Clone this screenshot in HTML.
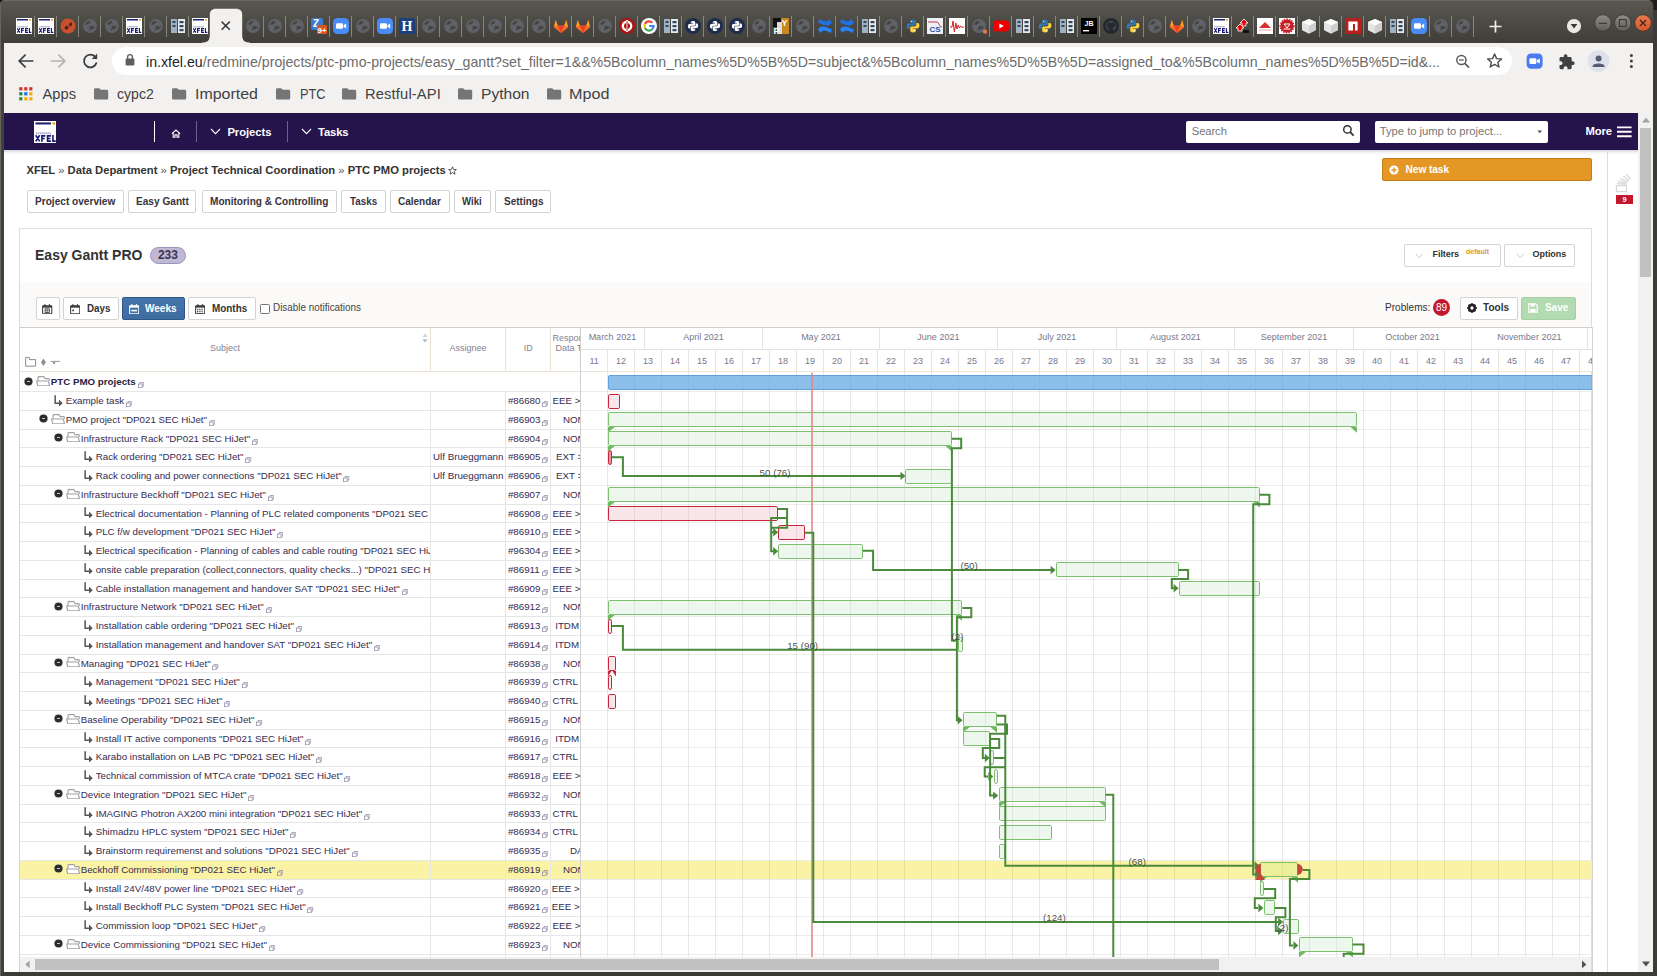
<!DOCTYPE html>
<html><head><meta charset="utf-8"><title>Easy Gantt</title>
<style>
html,body{margin:0;padding:0}
body{width:1657px;height:976px;overflow:hidden;position:relative;background:#3c3b37;font-family:"Liberation Sans",sans-serif}
.fit{display:inline-block}
div.fit{display:block}
#vscroll{position:absolute;left:1638px;top:112.8px;width:15px;height:859px;background:#f1f1f1}
#vthumb{position:absolute;left:1640.2px;top:128px;width:10.8px;height:148.6px;background:#c1c1c1}
#lborder{position:absolute;left:0;top:42.6px;width:4px;height:934px;background:#42413d}
#bborder{position:absolute;left:0;top:971.6px;width:1657px;height:4.4px;background:#3c3b37}
#rborder{position:absolute;left:1653px;top:0;width:4px;height:976px;background:#3c3b37}

#tabstrip{position:absolute;left:0;top:0;width:1657px;height:42.6px;background:linear-gradient(#4f4e48 0,#58574f 2px,#4b4a45 22px,#403f3b 42px)}
.fav{position:absolute;top:18px}
.tsep{position:absolute;top:16px;width:1.1px;height:21px;background:#88857a}
#toolbar{position:absolute;left:4px;top:42.6px;width:1649px;height:70.2px;background:#f2f1f0}
#urlpill{position:absolute;left:112px;top:47px;width:1400px;height:28px;border-radius:14px;background:#fff}
#url{position:absolute;left:146.3px;top:52.6px;font-size:14.6px;line-height:19px;white-space:nowrap}
.bm{position:absolute;top:85.4px;font-size:14.7px;line-height:19px;color:#424242;white-space:nowrap}

#pagebg{position:absolute;left:4px;top:112.8px;width:1634px;height:859px;background:#fff}
#nav{position:absolute;left:4px;top:112.7px;width:1634px;height:37.1px;background:#25134b}
#navshadow{position:absolute;left:4px;top:149.8px;width:1634px;height:5px;background:linear-gradient(#d4d4d6,#f4f4f4 50%,#fff)}
.nsep{position:absolute;top:121px;width:0.8px;height:20.6px;background:#6c6186}
.navt{position:absolute;top:125.2px;font-size:11.25px;line-height:14px;font-weight:bold;color:#fff;white-space:nowrap}
.ninp{position:absolute;top:121px;height:22px;background:#fff;border-radius:2px}
.nph{position:absolute;top:125.2px;font-size:11.25px;line-height:13px;color:#767676;white-space:nowrap}
#bc{position:absolute;left:26.5px;top:163.4px;font-size:11.25px;line-height:14px;font-weight:bold;color:#333;white-space:nowrap}
.bcs{font-weight:normal;color:#555}
#newtask{position:absolute;left:1382.3px;top:158.3px;width:209.6px;height:22.4px;box-sizing:border-box;background:#e49725;border:0.8px solid #c47d14;border-radius:2px}
.mbtn{position:absolute;top:190px;height:22.6px;box-sizing:border-box;border:0.8px solid #d3d3d3;border-radius:2px;background:#fff;font-size:11.25px;line-height:21px;font-weight:bold;color:#37343e;text-align:center;white-space:nowrap}
.mtx{position:absolute;top:194.6px;font-size:11.25px;line-height:13px;font-weight:bold;color:#37343e;white-space:nowrap}
#card{position:absolute;left:19.3px;top:228.4px;width:1572.6px;height:746px;box-sizing:border-box;border:0.9px solid #ddd;background:#fff}
#cardtb{position:absolute;left:20.2px;top:281.8px;width:1570.8px;height:45.4px;background:#fbfaf9}
#title{position:absolute;left:35px;top:245.1px;font-size:15px;line-height:19px;font-weight:bold;color:#333;white-space:nowrap}
#badge{position:absolute;left:150.2px;top:247.2px;width:35.6px;height:16.6px;box-sizing:border-box;border:0.8px solid #9b93b8;border-radius:8.4px;background:#c0b9d6;text-align:center;font-size:12px;line-height:15.8px;font-weight:bold;color:#3a3450}
#badge span{display:inline-block}
.fbtn{position:absolute;top:244.3px;height:22.5px;box-sizing:border-box;border:0.8px solid #d3d3d3;border-radius:2px;background:#fff}
.ftxt{position:absolute;top:247.8px;font-size:9px;line-height:12px;font-weight:bold;color:#333;white-space:nowrap}
.tbtn{position:absolute;top:297.3px;height:22.4px;box-sizing:border-box;border:0.8px solid #d3d3d3;border-radius:2px;background:#fff}
.tbtn.act{background:linear-gradient(#4575ac,#3e6ca1);border-color:#2c5687}
.tbtn.sav{background:#b3dbb1;border-color:#a6cfa4}
.tbt{position:absolute;top:301.3px;font-size:11.25px;line-height:13px;font-weight:bold;color:#333;white-space:nowrap}

#gwrap{position:absolute;left:20.2px;top:328.2px;width:1571.6px;height:629.0px;overflow:hidden}
#ginner{position:absolute;left:-20.2px;top:-328.2px;width:1657px;height:976px}
.rl{position:absolute;left:20.2px;width:560.1999999999999px;height:1px;background:#e6e6e6}
.rl2{position:absolute;left:580.4px;width:1011.4px;height:1px;background:#ececec}
.vl{position:absolute;top:372px;width:1px;height:600px;background:rgba(0,0,0,0.088)}
.vh{position:absolute;top:349.6px;width:1px;height:21.6px;background:#e4e4e4}
.mvl{position:absolute;top:328.2px;width:1px;height:21px;background:#e4e4e4}
.cl{position:absolute;top:391.5px;width:1px;height:590px;background:#e6e6e6}
.cl2{position:absolute;top:328.2px;width:1.2px;height:650px;background:#cfcfcf}
.mh{position:absolute;top:331.6px;font-size:9px;line-height:11px;color:#7a768c;text-align:center;white-space:nowrap;overflow:hidden}
.wh{position:absolute;top:356.3px;width:27px;font-size:9px;line-height:11px;color:#7a768c;text-align:center}
.lh{position:absolute;font-size:9px;line-height:11px;color:#837f96;text-align:center;white-space:nowrap}
.st{position:absolute;font-size:9.75px;line-height:19px;height:19px;color:#352b50;white-space:nowrap;overflow:hidden}
.st.b{font-weight:bold;color:#2a2140}
.ct{position:absolute;font-size:9.75px;line-height:19px;height:19px;color:#352b50;white-space:nowrap}
.mini{margin-left:1.8px;position:relative;top:3.4px}
</style></head>
<body>
<svg width="0" height="0" style="position:absolute"><defs><symbol id="xfel" viewBox="0 0 16 16"><rect x="0" y="0" width="16" height="16" fill="#fff"></rect><rect x="1" y="1" width="11" height="1.5" fill="#23236f"></rect><rect x="13" y="1" width="2" height="1.5" fill="#e8a020"></rect><path d="M1.4 8.8 H12" stroke="#8c8cb8" stroke-width="1.5" stroke-dasharray="1 0.45" opacity="0.75"></path><path d="M1.2 10.2 L4 14.6 M4 10.2 L1.2 14.6 M5.6 14.9 V10.6 H8 M5.6 12.5 H7.6 M9.6 10.6 H12 M9.6 12.5 H11.6 M9.6 14.4 H12 M9.6 10.05 V14.95 M13.4 10.05 V14.4 H15.4" stroke="#18186e" stroke-width="1.15" fill="none"></path></symbol><symbol id="globe" viewBox="0 0 16 16"><circle cx="8" cy="8" r="6.9" fill="#5f6268"></circle><path d="M3.1 6.7 C3.4 5.2 4.4 4 5.6 3.4 C6.4 3 7.4 2.8 8.4 3.2 C8.8 3.6 8 4.2 7.6 4.8 C7.3 5.4 7 6 6.4 6.2 C5.4 6.5 4.4 6.2 3.1 6.7 Z" fill="#45443f"></path><path d="M7.6 8.3 C8.2 7.8 9 7.6 9.8 7.9 C10.6 8.3 11.4 8.7 12.9 8.4 C12.8 9.4 12.2 10.2 11.4 10.7 C10.4 11.3 9.4 11.2 8.6 11.5 C8 11.8 7.6 12.6 7 12.6 C6.5 12.3 6.8 11.6 7.3 11 C7.8 10.4 8 10 7.7 9.5 C7.4 9.1 7.3 8.7 7.6 8.3 Z" fill="#45443f"></path></symbol><symbol id="anydesk" viewBox="0 0 16 16"><circle cx="8" cy="8" r="7.6" fill="#c8502d"></circle><path d="M4.2 9.6 L7 7.4 L9 9.4 L6.4 12 Z M8.6 6.2 L11.6 3.8 L12 7.6 L10.2 8.4 Z" fill="#4a241a"></path></symbol><symbol id="server" viewBox="0 0 16 16"><rect x="1" y="1" width="6" height="14" fill="#9fb2c4"></rect><rect x="8" y="1" width="7" height="14" fill="#e4e9ee"></rect><rect x="2.5" y="3" width="3" height="2" fill="#34495e"></rect><rect x="2.5" y="7" width="3" height="2" fill="#34495e"></rect><rect x="9.5" y="3" width="4" height="2.2" fill="#34495e"></rect><rect x="9.5" y="7" width="4" height="2.2" fill="#34495e"></rect><rect x="9.5" y="11" width="4" height="2.2" fill="#34495e"></rect></symbol><symbol id="zoom" viewBox="0 0 16 16"><rect x="0" y="0" width="16" height="16" rx="4.5" fill="#4a8cf7"></rect><rect x="3" y="5.2" width="7" height="5.6" rx="1.4" fill="#fff"></rect><path d="M10.6 7.2 L13.2 5.6 V10.4 L10.6 8.8 Z" fill="#fff"></path></symbol><symbol id="z9" viewBox="0 0 16 16"><rect x="0" y="0" width="12" height="12" rx="2" fill="#3b7ccf"></rect><text x="5" y="9" font-size="10" font-weight="bold" fill="#fff" text-anchor="middle" font-family="Liberation Sans">Z</text><rect x="6" y="7" width="10" height="9" rx="1" fill="#d9541e"></rect><text x="11" y="14.6" font-size="7.5" font-weight="bold" fill="#fff" text-anchor="middle" font-family="Liberation Sans" textLength="9" lengthAdjust="spacingAndGlyphs">9+</text></symbol><symbol id="hicon" viewBox="0 0 16 16"><rect x="0" y="0" width="16" height="16" rx="1" fill="#1f3f7a"></rect><text x="8" y="13.4" font-size="14" font-weight="bold" fill="#fff" text-anchor="middle" font-family="Liberation Serif">H</text></symbol><symbol id="gitlab" viewBox="0 0 16 16"><path d="M8 15 L1 9.2 L2.6 2 L4.8 7.6 H11.2 L13.4 2 L15 9.2 Z" fill="#e2432a"></path><path d="M8 15 L4.8 7.6 H11.2 Z" fill="#e2432a"></path><path d="M8 15 L1 9.2 L4.8 7.6 Z" fill="#fc6d26"></path><path d="M8 15 L15 9.2 L11.2 7.6 Z" fill="#fc6d26"></path><path d="M1 9.2 L2.6 2 L4.8 7.6 Z" fill="#fca326"></path><path d="M15 9.2 L13.4 2 L11.2 7.6 Z" fill="#fca326"></path></symbol><symbol id="power" viewBox="0 0 16 16"><circle cx="8" cy="8" r="8" fill="#a8160f"></circle><circle cx="8" cy="8" r="5.4" fill="#fff"></circle><circle cx="8" cy="8" r="3" fill="#a8160f"></circle><rect x="7.2" y="2" width="1.6" height="12" fill="#fff"></rect><rect x="7.6" y="3" width="0.9" height="10" fill="#a8160f"></rect></symbol><symbol id="google" viewBox="0 0 16 16"><circle cx="8" cy="8" r="8" fill="#fff"></circle><path d="M8 3.4 A4.6 4.6 0 0 1 11.3 4.8" stroke="#ea4335" stroke-width="2.1" fill="none"></path><path d="M8 3.4 A4.6 4.6 0 0 0 3.9 5.9" stroke="#ea4335" stroke-width="2.1" fill="none"></path><path d="M3.9 5.9 A4.6 4.6 0 0 0 3.9 10.1" stroke="#fbbc05" stroke-width="2.1" fill="none"></path><path d="M3.9 10.1 A4.6 4.6 0 0 0 11 11.5" stroke="#34a853" stroke-width="2.1" fill="none"></path><path d="M11 11.5 A4.6 4.6 0 0 0 12.6 8 H8.2" stroke="#4285f4" stroke-width="2.1" fill="none"></path></symbol><symbol id="python" viewBox="0 0 16 16"><path d="M7.9 1.6 C5.4 1.6 5.2 2.7 5.2 3.6 V5 H8.1 V5.6 H3.6 C2.4 5.6 1.6 6.6 1.6 8.4 C1.6 10.2 2.4 11 3.4 11 H4.6 V9.4 C4.6 8.2 5.4 7.6 6.4 7.6 H9.2 C10.2 7.6 10.8 7 10.8 6 V3.6 C10.8 2.4 9.8 1.6 7.9 1.6 Z" fill="#3776ab"></path><path d="M8.1 14.4 C10.6 14.4 10.8 13.3 10.8 12.4 V11 H7.9 V10.4 H12.4 C13.6 10.4 14.4 9.4 14.4 7.6 C14.4 5.8 13.6 5 12.6 5 H11.4 V6.6 C11.4 7.8 10.6 8.4 9.6 8.4 H6.8 C5.8 8.4 5.2 9 5.2 10 V12.4 C5.2 13.6 6.2 14.4 8.1 14.4 Z" fill="#ffd43b"></path><circle cx="6.6" cy="3.3" r="0.6" fill="#fff"></circle><circle cx="9.4" cy="12.7" r="0.6" fill="#fff"></circle></symbol><symbol id="pydark" viewBox="0 0 16 16"><circle cx="8" cy="8" r="8" fill="#1f2d4d"></circle><g transform="translate(1.6 1.6) scale(0.8)"><path d="M7.9 1.6 C5.4 1.6 5.2 2.7 5.2 3.6 V5 H8.1 V5.6 H3.6 C2.4 5.6 1.6 6.6 1.6 8.4 C1.6 10.2 2.4 11 3.4 11 H4.6 V9.4 C4.6 8.2 5.4 7.6 6.4 7.6 H9.2 C10.2 7.6 10.8 7 10.8 6 V3.6 C10.8 2.4 9.8 1.6 7.9 1.6 Z" fill="#fff"></path><path d="M8.1 14.4 C10.6 14.4 10.8 13.3 10.8 12.4 V11 H7.9 V10.4 H12.4 C13.6 10.4 14.4 9.4 14.4 7.6 C14.4 5.8 13.6 5 12.6 5 H11.4 V6.6 C11.4 7.8 10.6 8.4 9.6 8.4 H6.8 C5.8 8.4 5.2 9 5.2 10 V12.4 C5.2 13.6 6.2 14.4 8.1 14.4 Z" fill="#fff"></path><circle cx="6.6" cy="3.3" r="0.6" fill="#1f2d4d"></circle><circle cx="9.4" cy="12.7" r="0.6" fill="#1f2d4d"></circle></g></symbol><symbol id="pyy" viewBox="0 0 16 16"><rect x="0" y="0" width="8" height="9" fill="#111"></rect><rect x="8" y="0" width="8" height="16" fill="#c8861e"></rect><rect x="4" y="4" width="5" height="12" fill="#ddd"></rect><text x="11.6" y="8" font-size="9" font-weight="bold" fill="#fff" text-anchor="middle" font-family="Liberation Sans">Y</text><text x="3.4" y="15.6" font-size="9" font-weight="bold" fill="#fff" text-anchor="middle" font-family="Liberation Sans">P</text></symbol><symbol id="confl" viewBox="0 0 16 16"><path d="M1 11.5 C3.5 7.5 6.5 7.6 15 11.6 L13.6 15 C7.5 12 5.8 11.6 3.8 15 Z" fill="#2684ff"></path><path d="M15 4.5 C12.5 8.5 9.5 8.4 1 4.4 L2.4 1 C8.5 4 10.2 4.4 12.2 1 Z" fill="#2070e8"></path></symbol><symbol id="cs" viewBox="0 0 16 16"><rect width="16" height="16" fill="#eef0f6"></rect><path d="M1 4 H10 C12 4 12 9 15 9" stroke="#c04050" stroke-width="1" fill="none"></path><text x="8" y="14" font-size="8" font-weight="bold" fill="#2a4fa8" text-anchor="middle" font-family="Liberation Sans">CS</text></symbol><symbol id="wave" viewBox="0 0 16 16"><rect width="16" height="16" fill="#fff"></rect><path d="M1 9 L3 9 L4 3 L5.4 14 L6.8 5 L8 11 L9.2 7 L10.4 10 L11.6 8 L13 9.4 L15 9" stroke="#d02020" stroke-width="1" fill="none"></path></symbol><symbol id="globeo" viewBox="0 0 16 16"><use href="#globe"></use><circle cx="14" cy="13.6" r="2.2" fill="#e07a4a"></circle></symbol><symbol id="yt" viewBox="0 0 16 16"><rect x="0" y="2.4" width="16" height="11.2" rx="3" fill="#e00"></rect><path d="M6.4 5.4 L10.8 8 L6.4 10.6 Z" fill="#fff"></path></symbol><symbol id="jb" viewBox="0 0 16 16"><rect width="16" height="16" fill="#000"></rect><text x="8" y="8" font-size="7" font-weight="bold" fill="#fff" text-anchor="middle" font-family="Liberation Sans">JB</text><rect x="2" y="12" width="6" height="1.4" fill="#fff"></rect></symbol><symbol id="github" viewBox="0 0 16 16"><circle cx="8" cy="8" r="8" fill="#24292e"></circle><path d="M8 3 C5 3 3 5.2 3 8 C3 10.4 4.6 12 6.2 12.6 V11 C5 11.2 4.6 10.4 4.4 10 C5.4 10.6 5.8 10.2 6.2 9.8 C4.6 9.6 3.8 8.6 3.8 7.2 C3.8 6.6 4 6 4.4 5.6 C4.2 5 4.4 4.4 4.6 4 C5.2 4 5.8 4.4 6.2 4.8 C7.4 4.4 8.6 4.4 9.8 4.8 C10.2 4.4 10.8 4 11.4 4 C11.6 4.4 11.8 5 11.6 5.6 C12 6 12.2 6.6 12.2 7.2 C12.2 8.6 11.4 9.6 9.8 9.8 C10.2 10.2 10.2 10.8 10.2 11.4 V12.6 C11.8 12 13 10.4 13 8 C13 5.2 11 3 8 3 Z" fill="#4a4f55"></path></symbol><symbol id="rarrows" viewBox="0 0 16 16"><path d="M9 1 L13 5 H11 V8 H7 V5 H5 Z" fill="#e00" stroke="#fff" stroke-width="0.8"></path><path d="M5 6 L9 10 H7 V13 H3 V10 H1 Z" fill="#e00" stroke="#fff" stroke-width="0.8"></path><rect x="8" y="12" width="6" height="3" fill="#111"></rect></symbol><symbol id="rtri" viewBox="0 0 16 16"><rect width="16" height="16" fill="#fff"></rect><path d="M8 4 L14 10 H2 Z" fill="#d83030"></path><path d="M2 12 H14" stroke="#e8a0a0" stroke-width="1"></path></symbol><symbol id="rgear" viewBox="0 0 16 16"><rect width="16" height="16" fill="#fff"></rect><circle cx="8" cy="8" r="6.6" fill="#c81e28"></circle><circle cx="8" cy="8" r="6.8" fill="none" stroke="#c81e28" stroke-width="1.6" stroke-dasharray="1.4 1.2"></circle><path d="M5 6 L11 6 L8 10 Z M4.6 11 H11.4" stroke="#fff" stroke-width="1" fill="none"></path></symbol><symbol id="cube" viewBox="0 0 16 16"><path d="M8 1 L15 4 V12 L8 15.4 L1 12 V4 Z" fill="#f1f1f1"></path><path d="M8 7.4 L15 4 V12 L8 15.4 Z" fill="#cfcfcf"></path><path d="M8 7.4 L1 4 V12 L8 15.4 Z" fill="#e4e4e4"></path><path d="M8 1 L15 4 L8 7.4 L1 4 Z" fill="#fbfbfb"></path></symbol><symbol id="npm" viewBox="0 0 16 16"><rect width="16" height="16" fill="#b8201f"></rect><path d="M3.4 3.4 H12.6 V12.6 H10 V6 H8 V12.6 H3.4 Z" fill="#fff"></path></symbol></defs></svg>
<div id="tabstrip"></div>
<svg style="position:absolute;left:196px;top:0" width="60" height="44" viewBox="196 0 60 44"><path d="M202 42.6 C208 42.6 209.8 40 209.8 35 V15 C209.8 11 212 8.8 216 8.8 H236 C240 8.8 242.2 11 242.2 15 V35 C242.2 40 244 42.6 250 42.6 V44 H202 Z" fill="#f2f1f0"></path><path d="M221.6 21.6 L229.8 29.8 M229.8 21.6 L221.6 29.8" stroke="#3a3a3a" stroke-width="1.5" fill="none"></path></svg>
<svg class="fav" style="left:16.0px" width="16" height="16"><use href="#xfel"></use></svg>
<div class="tsep" style="left:34.0px"></div>
<svg class="fav" style="left:38.0px" width="16" height="16"><use href="#xfel"></use></svg>
<div class="tsep" style="left:56.0px"></div>
<svg class="fav" style="left:60.0px" width="16" height="16"><use href="#anydesk"></use></svg>
<div class="tsep" style="left:78.0px"></div>
<svg class="fav" style="left:82.0px" width="16" height="16"><use href="#globe"></use></svg>
<div class="tsep" style="left:100.0px"></div>
<svg class="fav" style="left:104.0px" width="16" height="16"><use href="#globe"></use></svg>
<div class="tsep" style="left:122.0px"></div>
<svg class="fav" style="left:126.0px" width="16" height="16"><use href="#xfel"></use></svg>
<div class="tsep" style="left:144.0px"></div>
<svg class="fav" style="left:148.0px" width="16" height="16"><use href="#globe"></use></svg>
<div class="tsep" style="left:166.0px"></div>
<svg class="fav" style="left:170.0px" width="16" height="16"><use href="#server"></use></svg>
<div class="tsep" style="left:188.0px"></div>
<svg class="fav" style="left:192.0px" width="16" height="16"><use href="#xfel"></use></svg>
<svg class="fav" style="left:245.0px" width="16" height="16"><use href="#globe"></use></svg>
<div class="tsep" style="left:263.0px"></div>
<svg class="fav" style="left:267.0px" width="16" height="16"><use href="#globe"></use></svg>
<div class="tsep" style="left:285.0px"></div>
<svg class="fav" style="left:289.0px" width="16" height="16"><use href="#globe"></use></svg>
<div class="tsep" style="left:307.0px"></div>
<svg class="fav" style="left:311.0px" width="16" height="16"><use href="#z9"></use></svg>
<div class="tsep" style="left:329.0px"></div>
<svg class="fav" style="left:333.0px" width="16" height="16"><use href="#zoom"></use></svg>
<div class="tsep" style="left:351.0px"></div>
<svg class="fav" style="left:355.0px" width="16" height="16"><use href="#globe"></use></svg>
<div class="tsep" style="left:373.0px"></div>
<svg class="fav" style="left:377.0px" width="16" height="16"><use href="#zoom"></use></svg>
<div class="tsep" style="left:395.0px"></div>
<svg class="fav" style="left:399.0px" width="16" height="16"><use href="#hicon"></use></svg>
<div class="tsep" style="left:417.0px"></div>
<svg class="fav" style="left:421.0px" width="16" height="16"><use href="#globe"></use></svg>
<div class="tsep" style="left:439.0px"></div>
<svg class="fav" style="left:443.0px" width="16" height="16"><use href="#globe"></use></svg>
<div class="tsep" style="left:461.0px"></div>
<svg class="fav" style="left:465.0px" width="16" height="16"><use href="#globe"></use></svg>
<div class="tsep" style="left:483.0px"></div>
<svg class="fav" style="left:487.0px" width="16" height="16"><use href="#globe"></use></svg>
<div class="tsep" style="left:505.0px"></div>
<svg class="fav" style="left:509.0px" width="16" height="16"><use href="#globe"></use></svg>
<div class="tsep" style="left:527.0px"></div>
<svg class="fav" style="left:531.0px" width="16" height="16"><use href="#globe"></use></svg>
<div class="tsep" style="left:549.0px"></div>
<svg class="fav" style="left:553.0px" width="16" height="16"><use href="#gitlab"></use></svg>
<div class="tsep" style="left:571.0px"></div>
<svg class="fav" style="left:575.0px" width="16" height="16"><use href="#gitlab"></use></svg>
<div class="tsep" style="left:593.0px"></div>
<svg class="fav" style="left:597.0px" width="16" height="16"><use href="#globe"></use></svg>
<div class="tsep" style="left:615.0px"></div>
<svg class="fav" style="left:619.0px" width="16" height="16"><use href="#power"></use></svg>
<div class="tsep" style="left:637.0px"></div>
<svg class="fav" style="left:641.0px" width="16" height="16"><use href="#google"></use></svg>
<div class="tsep" style="left:659.0px"></div>
<svg class="fav" style="left:663.0px" width="16" height="16"><use href="#server"></use></svg>
<div class="tsep" style="left:681.0px"></div>
<svg class="fav" style="left:685.0px" width="16" height="16"><use href="#pydark"></use></svg>
<div class="tsep" style="left:703.0px"></div>
<svg class="fav" style="left:707.0px" width="16" height="16"><use href="#pydark"></use></svg>
<div class="tsep" style="left:725.0px"></div>
<svg class="fav" style="left:729.0px" width="16" height="16"><use href="#pydark"></use></svg>
<div class="tsep" style="left:747.0px"></div>
<svg class="fav" style="left:751.0px" width="16" height="16"><use href="#globe"></use></svg>
<div class="tsep" style="left:769.0px"></div>
<svg class="fav" style="left:773.0px" width="16" height="16"><use href="#pyy"></use></svg>
<div class="tsep" style="left:791.0px"></div>
<svg class="fav" style="left:795.0px" width="16" height="16"><use href="#globe"></use></svg>
<div class="tsep" style="left:813.0px"></div>
<svg class="fav" style="left:817.0px" width="16" height="16"><use href="#confl"></use></svg>
<div class="tsep" style="left:835.0px"></div>
<svg class="fav" style="left:839.0px" width="16" height="16"><use href="#confl"></use></svg>
<div class="tsep" style="left:857.0px"></div>
<svg class="fav" style="left:861.0px" width="16" height="16"><use href="#server"></use></svg>
<div class="tsep" style="left:879.0px"></div>
<svg class="fav" style="left:883.0px" width="16" height="16"><use href="#globe"></use></svg>
<div class="tsep" style="left:901.0px"></div>
<svg class="fav" style="left:905.0px" width="16" height="16"><use href="#python"></use></svg>
<div class="tsep" style="left:923.0px"></div>
<svg class="fav" style="left:927.0px" width="16" height="16"><use href="#cs"></use></svg>
<div class="tsep" style="left:945.0px"></div>
<svg class="fav" style="left:949.0px" width="16" height="16"><use href="#wave"></use></svg>
<div class="tsep" style="left:967.0px"></div>
<svg class="fav" style="left:971.0px" width="16" height="16"><use href="#globeo"></use></svg>
<div class="tsep" style="left:989.0px"></div>
<svg class="fav" style="left:993.0px" width="16" height="16"><use href="#yt"></use></svg>
<div class="tsep" style="left:1011.0px"></div>
<svg class="fav" style="left:1015.0px" width="16" height="16"><use href="#server"></use></svg>
<div class="tsep" style="left:1033.0px"></div>
<svg class="fav" style="left:1037.0px" width="16" height="16"><use href="#python"></use></svg>
<div class="tsep" style="left:1055.0px"></div>
<svg class="fav" style="left:1059.0px" width="16" height="16"><use href="#server"></use></svg>
<div class="tsep" style="left:1077.0px"></div>
<svg class="fav" style="left:1081.0px" width="16" height="16"><use href="#jb"></use></svg>
<div class="tsep" style="left:1099.0px"></div>
<svg class="fav" style="left:1103.0px" width="16" height="16"><use href="#github"></use></svg>
<div class="tsep" style="left:1121.0px"></div>
<svg class="fav" style="left:1125.0px" width="16" height="16"><use href="#python"></use></svg>
<div class="tsep" style="left:1143.0px"></div>
<svg class="fav" style="left:1147.0px" width="16" height="16"><use href="#globe"></use></svg>
<div class="tsep" style="left:1165.0px"></div>
<svg class="fav" style="left:1169.0px" width="16" height="16"><use href="#gitlab"></use></svg>
<div class="tsep" style="left:1187.0px"></div>
<svg class="fav" style="left:1191.0px" width="16" height="16"><use href="#globe"></use></svg>
<div class="tsep" style="left:1209.0px"></div>
<svg class="fav" style="left:1213.0px" width="16" height="16"><use href="#xfel"></use></svg>
<div class="tsep" style="left:1231.0px"></div>
<svg class="fav" style="left:1235.0px" width="16" height="16"><use href="#rarrows"></use></svg>
<div class="tsep" style="left:1253.0px"></div>
<svg class="fav" style="left:1257.0px" width="16" height="16"><use href="#rtri"></use></svg>
<div class="tsep" style="left:1275.0px"></div>
<svg class="fav" style="left:1279.0px" width="16" height="16"><use href="#rgear"></use></svg>
<div class="tsep" style="left:1297.0px"></div>
<svg class="fav" style="left:1301.0px" width="16" height="16"><use href="#cube"></use></svg>
<div class="tsep" style="left:1319.0px"></div>
<svg class="fav" style="left:1323.0px" width="16" height="16"><use href="#cube"></use></svg>
<div class="tsep" style="left:1341.0px"></div>
<svg class="fav" style="left:1345.0px" width="16" height="16"><use href="#npm"></use></svg>
<div class="tsep" style="left:1363.0px"></div>
<svg class="fav" style="left:1367.0px" width="16" height="16"><use href="#cube"></use></svg>
<div class="tsep" style="left:1385.0px"></div>
<svg class="fav" style="left:1389.0px" width="16" height="16"><use href="#server"></use></svg>
<div class="tsep" style="left:1407.0px"></div>
<svg class="fav" style="left:1411.0px" width="16" height="16"><use href="#zoom"></use></svg>
<div class="tsep" style="left:1429.0px"></div>
<svg class="fav" style="left:1433.0px" width="16" height="16"><use href="#globe"></use></svg>
<div class="tsep" style="left:1451.0px"></div>
<svg class="fav" style="left:1455.0px" width="16" height="16"><use href="#globe"></use></svg>
<div class="tsep" style="left:1473.0px"></div>
<svg style="position:absolute;left:1488px;top:19px" width="15" height="15"><path d="M7.5 1.5 V13.5 M1.5 7.5 H13.5" stroke="#f0efec" stroke-width="1.7"></path></svg>
<svg style="position:absolute;left:1560px;top:8px" width="97" height="34" viewBox="1560 8 97 34"><defs><linearGradient id="gb" x1="0" y1="0" x2="0" y2="1"><stop offset="0" stop-color="#8d8c85"></stop><stop offset="1" stop-color="#5f5e58"></stop></linearGradient><linearGradient id="go" x1="0" y1="0" x2="0" y2="1"><stop offset="0" stop-color="#ea7a50"></stop><stop offset="1" stop-color="#d8532a"></stop></linearGradient></defs><circle cx="1574" cy="26.1" r="7.1" fill="#ebe9e0"></circle><path d="M1570.6 24 H1577.4 L1574 28.6 Z" fill="#3a3935"></path><circle cx="1602.9" cy="23" r="8.3" fill="url(#gb)" stroke="#37362f" stroke-width="0.8"></circle><path d="M1599 23.4 H1606.8" stroke="#3b3a35" stroke-width="1.2"></path><circle cx="1622.8" cy="23" r="8.3" fill="url(#gb)" stroke="#37362f" stroke-width="0.8"></circle><rect x="1619.4" y="19.6" width="6.8" height="6.8" fill="none" stroke="#3b3a35" stroke-width="1.1"></rect><circle cx="1643" cy="23" r="8.3" fill="url(#go)" stroke="#37362f" stroke-width="0.8"></circle><path d="M1640 20 L1646 26 M1646 20 L1640 26" stroke="#3a2a1a" stroke-width="1.3"></path></svg>
<div id="toolbar"></div>
<div id="urlpill"></div>
<svg style="position:absolute;left:14px;top:49px" width="100" height="24" viewBox="14 49 100 24" fill="none"><path d="M33.4 61 H19.4 M25.6 54.6 L19.2 61 L25.6 67.4" stroke="#3e3e3e" stroke-width="1.7"></path><path d="M50.6 61 H64.6 M58.4 54.6 L64.8 61 L58.4 67.4" stroke="#b4b3b1" stroke-width="1.7"></path><path d="M95.6 57.2 A6.4 6.4 0 1 0 96.6 62.6" stroke="#3e3e3e" stroke-width="1.8"></path><path d="M97.2 53.6 V59 H91.8 Z" fill="#3e3e3e"></path></svg>
<svg style="position:absolute;left:124px;top:53px" width="12" height="14" viewBox="0 0 12 14"><rect x="1.6" y="5.6" width="8.8" height="7" rx="1" fill="#5f5f5f"></rect><path d="M3.6 6 V4 A2.4 2.4 0 0 1 8.4 4 V6" stroke="#5f5f5f" stroke-width="1.4" fill="none"></path></svg>
<div id="url" class="fit" style="transform: scaleX(0.9709); transform-origin: 0px 50%;"><span style="color:#222">in.xfel.eu</span><span style="color:#6b6b6b">/redmine/projects/ptc-pmo-projects/easy_gantt?set_filter=1&amp;&amp;%5Bcolumn_names%5D%5B%5D=subject&amp;%5Bcolumn_names%5D%5B%5D=assigned_to&amp;%5Bcolumn_names%5D%5B%5D=id&amp;...</span></div>
<svg style="position:absolute;left:1450px;top:48px" width="200" height="28" viewBox="1450 48 200 28" fill="none"><circle cx="1461.4" cy="60" r="4.6" stroke="#5a5a5a" stroke-width="1.5"></circle><path d="M1464.8 63.4 L1469 67.6" stroke="#5a5a5a" stroke-width="1.7"></path><path d="M1459 60 H1463.8" stroke="#5a5a5a" stroke-width="1.3"></path><path d="M1494.6 54 L1496.6 58.6 L1501.6 59 L1497.8 62.2 L1499 67 L1494.6 64.4 L1490.2 67 L1491.4 62.2 L1487.6 59 L1492.6 58.6 Z" stroke="#4a4a4a" stroke-width="1.4" stroke-linejoin="round"></path><rect x="1526.6" y="53.4" width="16" height="15.4" rx="4.4" fill="#4a7cf0"></rect><rect x="1529.4" y="58.2" width="7" height="5.8" rx="1.3" fill="#fff"></rect><path d="M1537 60.2 L1539.8 58.6 V63.6 L1537 62 Z" fill="#fff"></path><path transform="translate(1558.1 53.5) scale(0.714)" d="M20.5 11H19V7c0-1.1-.9-2-2-2h-4V3.5C13 2.12 11.88 1 10.5 1S8 2.12 8 3.5V5H4c-1.1 0-1.99.9-1.99 2v3.8H3.5c1.49 0 2.7 1.21 2.7 2.7s-1.21 2.7-2.7 2.7H2V20c0 1.1.9 2 2 2h3.8v-1.5c0-1.49 1.21-2.7 2.7-2.7 1.49 0 2.7 1.21 2.7 2.7V22H17c1.1 0 2-.9 2-2v-4h1.5c1.380 0 2.5-1.12 2.5-2.5S21.88 11 20.5 11z" fill="#414141"></path><circle cx="1598.6" cy="61" r="10.8" fill="#dfe1ea"></circle><circle cx="1598.6" cy="58.4" r="3" fill="#555a70"></circle><path d="M1592.6 66.4 C1592.6 62.6 1604.6 62.6 1604.6 66.4 V67 H1592.6 Z" fill="#555a70"></path><circle cx="1631.4" cy="55.4" r="1.5" fill="#3e3e3e"></circle><circle cx="1631.4" cy="61" r="1.5" fill="#3e3e3e"></circle><circle cx="1631.4" cy="66.6" r="1.5" fill="#3e3e3e"></circle></svg>
<svg style="position:absolute;left:19px;top:87px" width="14" height="14" viewBox="0 0 14 14"><rect x="0.2" y="0.2" width="3.2" height="3.2" fill="#d93025"></rect><rect x="5.2" y="0.2" width="3.2" height="3.2" fill="#d93025"></rect><rect x="10.2" y="0.2" width="3.2" height="3.2" fill="#d93025"></rect><rect x="0.2" y="5.2" width="3.2" height="3.2" fill="#1e8e3e"></rect><rect x="5.2" y="5.2" width="3.2" height="3.2" fill="#1a73e8"></rect><rect x="10.2" y="5.2" width="3.2" height="3.2" fill="#f9ab00"></rect><rect x="0.2" y="10.2" width="3.2" height="3.2" fill="#1e8e3e"></rect><rect x="5.2" y="10.2" width="3.2" height="3.2" fill="#f9ab00"></rect><rect x="10.2" y="10.2" width="3.2" height="3.2" fill="#f9ab00"></rect></svg>
<div class="bm fit" style="left: 42.6px; letter-spacing: -0.021px;">Apps</div>
<div class="bm fit" style="left: 117.4px; transform: scaleX(0.959); transform-origin: 0px 50%;">cypc2</div>
<svg style="position:absolute;left:94.3px;top:88px" width="15" height="12" viewBox="0 0 15 12"><path d="M0 1.6 C0 0.8 0.6 0.2 1.4 0.2 H5.2 L6.8 1.8 H12.8 C13.6 1.8 14.2 2.4 14.2 3.2 V10.2 C14.2 11 13.6 11.6 12.8 11.6 H1.4 C0.6 11.6 0 11 0 10.2 Z" fill="#757575"></path></svg>
<div class="bm fit" style="left: 195.2px; transform: scaleX(1.0868); transform-origin: 0px 50%;">Imported</div>
<svg style="position:absolute;left:172.4px;top:88px" width="15" height="12" viewBox="0 0 15 12"><path d="M0 1.6 C0 0.8 0.6 0.2 1.4 0.2 H5.2 L6.8 1.8 H12.8 C13.6 1.8 14.2 2.4 14.2 3.2 V10.2 C14.2 11 13.6 11.6 12.8 11.6 H1.4 C0.6 11.6 0 11 0 10.2 Z" fill="#757575"></path></svg>
<div class="bm fit" style="left: 299.6px; transform: scaleX(0.8715); transform-origin: 0px 50%;">PTC</div>
<svg style="position:absolute;left:276.3px;top:88px" width="15" height="12" viewBox="0 0 15 12"><path d="M0 1.6 C0 0.8 0.6 0.2 1.4 0.2 H5.2 L6.8 1.8 H12.8 C13.6 1.8 14.2 2.4 14.2 3.2 V10.2 C14.2 11 13.6 11.6 12.8 11.6 H1.4 C0.6 11.6 0 11 0 10.2 Z" fill="#757575"></path></svg>
<div class="bm fit" style="left: 365px; letter-spacing: 0.156px;">Restful-API</div>
<svg style="position:absolute;left:342.2px;top:88px" width="15" height="12" viewBox="0 0 15 12"><path d="M0 1.6 C0 0.8 0.6 0.2 1.4 0.2 H5.2 L6.8 1.8 H12.8 C13.6 1.8 14.2 2.4 14.2 3.2 V10.2 C14.2 11 13.6 11.6 12.8 11.6 H1.4 C0.6 11.6 0 11 0 10.2 Z" fill="#757575"></path></svg>
<div class="bm fit" style="left: 481px; transform: scaleX(1.0605); transform-origin: 0px 50%;">Python</div>
<svg style="position:absolute;left:458px;top:88px" width="15" height="12" viewBox="0 0 15 12"><path d="M0 1.6 C0 0.8 0.6 0.2 1.4 0.2 H5.2 L6.8 1.8 H12.8 C13.6 1.8 14.2 2.4 14.2 3.2 V10.2 C14.2 11 13.6 11.6 12.8 11.6 H1.4 C0.6 11.6 0 11 0 10.2 Z" fill="#757575"></path></svg>
<div class="bm fit" style="left: 569px; transform: scaleX(1.102); transform-origin: 0px 50%;">Mpod</div>
<svg style="position:absolute;left:547px;top:88px" width="15" height="12" viewBox="0 0 15 12"><path d="M0 1.6 C0 0.8 0.6 0.2 1.4 0.2 H5.2 L6.8 1.8 H12.8 C13.6 1.8 14.2 2.4 14.2 3.2 V10.2 C14.2 11 13.6 11.6 12.8 11.6 H1.4 C0.6 11.6 0 11 0 10.2 Z" fill="#757575"></path></svg>
<div id="pagebg"></div>
<div id="nav"></div><div id="navshadow"></div>
<svg style="position:absolute;left:33.7px;top:120.7px" width="22.6" height="22.4" viewBox="0 0 16 16" preserveAspectRatio="none"><use href="#xfel"></use></svg>
<div style="position:absolute;left:154px;top:121px;width:1.2px;height:20.6px;background:#fff"></div>
<div class="nsep" style="left:196.2px"></div><div class="nsep" style="left:287.3px"></div>
<svg style="position:absolute;left:170.8px;top:128.6px" width="10" height="9.2" viewBox="0 0 12 11" fill="none"><path d="M1.2 5.6 L6 1.2 L10.8 5.6 M2.6 4.8 V9.8 H4.8 V7 H7.2 V9.8 H9.4 V4.8" stroke="#fff" stroke-width="1.3"></path></svg>
<svg style="position:absolute;left:210.0px;top:128px" width="11" height="7" viewBox="0 0 11 7" fill="none"><path d="M1 1 L5.5 5.6 L10 1" stroke="#fff" stroke-width="1.1"></path></svg>
<svg style="position:absolute;left:301.0px;top:128px" width="11" height="7" viewBox="0 0 11 7" fill="none"><path d="M1 1 L5.5 5.6 L10 1" stroke="#fff" stroke-width="1.1"></path></svg>
<div class="navt fit" style="left: 227.4px; letter-spacing: -0.038px;">Projects</div>
<div class="navt fit" style="left: 318px; letter-spacing: -0.116px;">Tasks</div>
<div class="ninp" style="left:1185.8px;width:174.2px"></div><div class="ninp" style="left:1375px;width:172.6px"></div>
<div class="nph fit" style="left: 1191.8px; letter-spacing: -0.109px;">Search</div><div class="nph fit" style="left: 1379.8px; letter-spacing: -0.03px;">Type to jump to project...</div>
<svg style="position:absolute;left:1342px;top:124.4px" width="13" height="13" viewBox="0 0 13 13" fill="none"><circle cx="5.4" cy="5.4" r="3.7" stroke="#333" stroke-width="1.5"></circle><path d="M8.2 8.2 L11.6 11.6" stroke="#333" stroke-width="1.7"></path></svg>
<svg style="position:absolute;left:1536.6px;top:130px" width="6" height="4" viewBox="0 0 6 4"><path d="M0.4 0.6 H5.2 L2.8 3.2 Z" fill="#555"></path></svg>
<div class="navt fit" style="left: 1585.4px; top: 124.2px; letter-spacing: -0.073px;">More</div>
<svg style="position:absolute;left:1617px;top:125.6px" width="15" height="12" viewBox="0 0 15 12"><path d="M0 1.4 H14.6 M0 5.8 H14.6 M0 10.2 H14.6" stroke="#fff" stroke-width="1.9"></path></svg>
<div style="position:absolute;left:1606.9px;top:150px;width:1px;height:822px;background:#dcdcdc"></div>
<svg style="position:absolute;left:1615px;top:173px" width="18" height="20" viewBox="0 0 18 20" fill="none"><rect x="1.4" y="12.6" width="10" height="6" stroke="#d8d8d8" stroke-width="1.2"></rect><path d="M2 10.6 L11 11.2 M3 8.2 L11.8 10 M5 5.6 L12.8 8.8 M8 3 L14 7.6 M11.4 1 L15.4 6.4" stroke="#dcdcdc" stroke-width="1.5"></path></svg>
<div style="position:absolute;left:1616px;top:194.6px;width:17px;height:9.2px;background:#c3172e;color:#fff;font-size:7.4px;line-height:9.4px;text-align:center;font-weight:bold">9</div>
<div id="bc" class="fit" style="letter-spacing: -0.006px;">XFEL <span class="bcs">»</span> Data Department <span class="bcs">»</span> Project Technical Coordination <span class="bcs">»</span> PTC PMO projects</div>
<svg style="position:absolute;left:448.2px;top:165.6px" width="9" height="9" viewBox="0 0 9 9" fill="none"><path d="M4.5 0.8 L5.6 3.4 L8.4 3.6 L6.2 5.4 L7 8.2 L4.5 6.6 L2 8.2 L2.8 5.4 L0.6 3.6 L3.4 3.4 Z" stroke="#333" stroke-width="0.8" stroke-linejoin="round"></path></svg>
<div id="newtask"></div>
<svg style="position:absolute;left:1389.4px;top:164.6px" width="10" height="10" viewBox="0 0 10 10"><circle cx="5" cy="5" r="4.6" fill="#fff"></circle><path d="M5 2.4 V7.6 M2.4 5 H7.6" stroke="#e49725" stroke-width="1.5"></path></svg>
<div class="fit" style="position: absolute; left: 1405.6px; top: 162.6px; font-size: 10.2px; line-height: 13px; color: rgb(255, 255, 255); font-weight: bold; white-space: nowrap; letter-spacing: -0.096px;">New task</div>
<div class="mbtn" style="left:27.3px;width:96.3px"></div><div class="mtx fit" style="left: 35px; transform: scaleX(0.898); transform-origin: 0px 50%;">Project overview</div>
<div class="mbtn" style="left:128.4px;width:67.9px"></div><div class="mtx fit" style="left: 136.2px; transform: scaleX(0.8982); transform-origin: 0px 50%;">Easy Gantt</div>
<div class="mbtn" style="left:201.6px;width:135.1px"></div><div class="mtx fit" style="left: 210.1px; transform: scaleX(0.8938); transform-origin: 0px 50%;">Monitoring &amp; Controlling</div>
<div class="mbtn" style="left:341.4px;width:44.2px"></div><div class="mtx fit" style="left: 349.9px; transform: scaleX(0.8752); transform-origin: 0px 50%;">Tasks</div>
<div class="mbtn" style="left:390.3px;width:59.4px"></div><div class="mtx fit" style="left: 398.4px; transform: scaleX(0.8888); transform-origin: 0px 50%;">Calendar</div>
<div class="mbtn" style="left:454.4px;width:36.2px"></div><div class="mtx fit" style="left: 462.4px; transform: scaleX(0.8554); transform-origin: 0px 50%;">Wiki</div>
<div class="mbtn" style="left:495.3px;width:56.2px"></div><div class="mtx fit" style="left: 503.8px; transform: scaleX(0.8898); transform-origin: 0px 50%;">Settings</div>
<div id="card"></div><div id="cardtb"></div>
<div id="title" class="fit" style="transform: scaleX(0.9335); transform-origin: 0px 50%;">Easy Gantt PRO</div>
<div id="badge"><span class="fit" style="letter-spacing: 0.056px;">233</span></div>
<div class="fbtn" style="left:1404.3px;width:96.4px"></div><div class="fbtn" style="left:1504.3px;width:70.7px"></div>
<svg style="position:absolute;left:1414.8px;top:252.6px" width="8.4" height="6" viewBox="0 0 8.4 6" fill="none"><path d="M0.6 0.8 L4.2 4.6 L7.8 0.8" stroke="#c4c4c4" stroke-width="0.9"></path></svg>
<svg style="position:absolute;left:1515.8px;top:252.6px" width="8.4" height="6" viewBox="0 0 8.4 6" fill="none"><path d="M0.6 0.8 L4.2 4.6 L7.8 0.8" stroke="#c4c4c4" stroke-width="0.9"></path></svg>
<div class="ftxt fit" style="left: 1432.6px; letter-spacing: -0.088px;">Filters</div>
<div class="fit" style="position: absolute; left: 1465.5px; top: 248.2px; font-size: 7.5px; line-height: 8px; color: rgb(228, 151, 37); font-weight: bold; white-space: nowrap; transform: scaleX(0.9352); transform-origin: 0px 50%;">default</div>
<div class="ftxt fit" style="left: 1532.6px; letter-spacing: -0.071px;">Options</div>
<div class="tbtn" style="left:35.6px;width:24.2px"></div>
<div class="tbtn" style="left:63.3px;width:55.3px"></div>
<div class="tbtn act" style="left:122.2px;width:62.5px"></div>
<div class="tbtn" style="left:188.3px;width:67.5px"></div>
<svg style="position:absolute;left:42.2px;top:304.1px" width="10.4" height="10.4" viewBox="0 0 10 10"><rect x="0.6" y="1.8" width="8.8" height="7.6" rx="0.6" fill="none" stroke="#3a3a3a" stroke-width="1"></rect><rect x="0.6" y="1.8" width="8.8" height="1.7" fill="#3a3a3a"></rect><rect x="2.2" y="0.2" width="1.2" height="2.2" fill="#3a3a3a"></rect><rect x="6.6" y="0.2" width="1.2" height="2.2" fill="#3a3a3a"></rect><rect x="3" y="4.6" width="4" height="3.6" fill="none" stroke="#3a3a3a" stroke-width="0.8"></rect><path d="M5 4.6 V8.2 M3 6.4 H7" stroke="#3a3a3a" stroke-width="0.6"></path></svg>
<svg style="position:absolute;left:69.9px;top:304.1px" width="10.4" height="10.4" viewBox="0 0 10 10"><rect x="0.6" y="1.8" width="8.8" height="7.6" rx="0.6" fill="none" stroke="#3a3a3a" stroke-width="1"></rect><rect x="0.6" y="1.8" width="8.8" height="1.7" fill="#3a3a3a"></rect><rect x="2.2" y="0.2" width="1.2" height="2.2" fill="#3a3a3a"></rect><rect x="6.6" y="0.2" width="1.2" height="2.2" fill="#3a3a3a"></rect><rect x="2.2" y="5.4" width="1.6" height="1.6" fill="#3a3a3a"></rect></svg>
<svg style="position:absolute;left:128.8px;top:304.1px" width="10.4" height="10.4" viewBox="0 0 10 10"><rect x="0.6" y="1.8" width="8.8" height="7.6" rx="0.6" fill="none" stroke="#fff" stroke-width="1"></rect><rect x="0.6" y="1.8" width="8.8" height="1.7" fill="#fff"></rect><rect x="2.2" y="0.2" width="1.2" height="2.2" fill="#fff"></rect><rect x="6.6" y="0.2" width="1.2" height="2.2" fill="#fff"></rect><rect x="2.2" y="5.6" width="5.6" height="1.5" fill="#fff"></rect></svg>
<svg style="position:absolute;left:195.1px;top:304.1px" width="10.4" height="10.4" viewBox="0 0 10 10"><rect x="0.6" y="1.8" width="8.8" height="7.6" rx="0.6" fill="none" stroke="#3a3a3a" stroke-width="1"></rect><rect x="0.6" y="1.8" width="8.8" height="1.7" fill="#3a3a3a"></rect><rect x="2.2" y="0.2" width="1.2" height="2.2" fill="#3a3a3a"></rect><rect x="6.6" y="0.2" width="1.2" height="2.2" fill="#3a3a3a"></rect><rect x="2.0" y="4.6" width="1.2" height="1.1" fill="#3a3a3a"></rect><rect x="4.1" y="4.6" width="1.2" height="1.1" fill="#3a3a3a"></rect><rect x="6.2" y="4.6" width="1.2" height="1.1" fill="#3a3a3a"></rect><rect x="2.0" y="6.5" width="1.2" height="1.1" fill="#3a3a3a"></rect><rect x="4.1" y="6.5" width="1.2" height="1.1" fill="#3a3a3a"></rect><rect x="6.2" y="6.5" width="1.2" height="1.1" fill="#3a3a3a"></rect><rect x="2.0" y="8.399999999999999" width="1.2" height="1.1" fill="#3a3a3a"></rect><rect x="4.1" y="8.399999999999999" width="1.2" height="1.1" fill="#3a3a3a"></rect><rect x="6.2" y="8.399999999999999" width="1.2" height="1.1" fill="#3a3a3a"></rect></svg>
<div class="tbt fit" style="left: 86.5px; top: 302.3px; transform: scaleX(0.8734); transform-origin: 0px 50%;">Days</div>
<div class="tbt fit" style="left: 145.1px; top: 302.3px; color: rgb(255, 255, 255); transform: scaleX(0.8913); transform-origin: 0px 50%;">Weeks</div>
<div class="tbt fit" style="left: 211.8px; top: 302.3px; transform: scaleX(0.88); transform-origin: 0px 50%;">Months</div>
<div style="position:absolute;left:260.4px;top:304.4px;width:7.2px;height:7.2px;border:0.9px solid #767676;border-radius:1.4px;background:#fff"></div>
<div class="fit" style="position: absolute; left: 272.8px; top: 300.8px; font-size: 11.25px; line-height: 13px; color: rgb(68, 68, 68); white-space: nowrap; transform: scaleX(0.8795); transform-origin: 0px 50%;">Disable notifications</div>
<div class="fit" style="position: absolute; left: 1384.8px; top: 301.2px; font-size: 11.25px; line-height: 13px; color: rgb(51, 51, 51); white-space: nowrap; transform: scaleX(0.8962); transform-origin: 0px 50%;">Problems:</div>
<div style="position:absolute;left:1432.7px;top:299.2px;width:17.3px;height:17.3px;border-radius:9px;background:#c3172e"></div><div class="fit" style="position: absolute; left: 1435.8px; top: 301.4px; font-size: 11.25px; line-height: 13px; color: rgb(255, 255, 255); white-space: nowrap; transform: scaleX(0.8949); transform-origin: 0px 50%;">89</div>
<div class="tbtn" style="left:1460.3px;width:57.3px"></div>
<div class="tbtn sav" style="left:1521.3px;width:54.6px"></div>
<svg style="position:absolute;left:1466.6px;top:303.2px" width="10" height="10" viewBox="0 0 10 10"><circle cx="5" cy="5" r="2.9" fill="none" stroke="#222" stroke-width="2.5"></circle><g stroke="#222" stroke-width="2"><path d="M5 0.2 V1.8 M5 8.2 V9.8 M0.2 5 H1.8 M8.2 5 H9.8 M1.6 1.6 L2.7 2.7 M7.3 7.3 L8.4 8.4 M1.6 8.4 L2.7 7.3 M7.3 2.7 L8.4 1.6"></path></g></svg>
<div class="tbt fit" style="left: 1483px; transform: scaleX(0.8913); transform-origin: 0px 50%;">Tools</div>
<svg style="position:absolute;left:1528.4px;top:303.4px" width="10" height="10" viewBox="0 0 10 10" fill="none"><path d="M0.8 0.8 H7.4 L9.2 2.6 V9.2 H0.8 Z" stroke="#fff" stroke-width="1.2"></path><rect x="2.6" y="0.8" width="4" height="2.8" fill="#fff"></rect><rect x="2.4" y="5.8" width="5.2" height="3.4" fill="#fff"></rect></svg>
<div class="tbt fit" style="left: 1544.8px; color: rgb(255, 255, 255); transform: scaleX(0.8828); transform-origin: 0px 50%;">Save</div>
<div id="gwrap">
<div id="ginner">
<div style="position:absolute;left:20.2px;top:328.2px;width:1571.6px;height:43.2px;background:#fff"></div>
<div style="position:absolute;left:20.2px;top:371px;width:1571.6px;height:1.1px;background:#ece4d8"></div>
<div style="position:absolute;left:20.2px;top:860.65px;width:1571.6px;height:18.55px;background:#faf3a6"></div>
<div class="rl" style="top:391px"></div><div class="rl2" style="top:391px"></div>
<div class="rl" style="top:410px"></div><div class="rl2" style="top:410px"></div>
<div class="rl" style="top:429px"></div><div class="rl2" style="top:429px"></div>
<div class="rl" style="top:447px"></div><div class="rl2" style="top:447px"></div>
<div class="rl" style="top:466px"></div><div class="rl2" style="top:466px"></div>
<div class="rl" style="top:485px"></div><div class="rl2" style="top:485px"></div>
<div class="rl" style="top:504px"></div><div class="rl2" style="top:504px"></div>
<div class="rl" style="top:522px"></div><div class="rl2" style="top:522px"></div>
<div class="rl" style="top:541px"></div><div class="rl2" style="top:541px"></div>
<div class="rl" style="top:560px"></div><div class="rl2" style="top:560px"></div>
<div class="rl" style="top:579px"></div><div class="rl2" style="top:579px"></div>
<div class="rl" style="top:597px"></div><div class="rl2" style="top:597px"></div>
<div class="rl" style="top:616px"></div><div class="rl2" style="top:616px"></div>
<div class="rl" style="top:635px"></div><div class="rl2" style="top:635px"></div>
<div class="rl" style="top:654px"></div><div class="rl2" style="top:654px"></div>
<div class="rl" style="top:672px"></div><div class="rl2" style="top:672px"></div>
<div class="rl" style="top:691px"></div><div class="rl2" style="top:691px"></div>
<div class="rl" style="top:710px"></div><div class="rl2" style="top:710px"></div>
<div class="rl" style="top:729px"></div><div class="rl2" style="top:729px"></div>
<div class="rl" style="top:747px"></div><div class="rl2" style="top:747px"></div>
<div class="rl" style="top:766px"></div><div class="rl2" style="top:766px"></div>
<div class="rl" style="top:785px"></div><div class="rl2" style="top:785px"></div>
<div class="rl" style="top:804px"></div><div class="rl2" style="top:804px"></div>
<div class="rl" style="top:822px"></div><div class="rl2" style="top:822px"></div>
<div class="rl" style="top:841px"></div><div class="rl2" style="top:841px"></div>
<div class="rl" style="top:860px"></div><div class="rl2" style="top:860px"></div>
<div class="rl" style="top:879px"></div><div class="rl2" style="top:879px"></div>
<div class="rl" style="top:897px"></div><div class="rl2" style="top:897px"></div>
<div class="rl" style="top:916px"></div><div class="rl2" style="top:916px"></div>
<div class="rl" style="top:935px"></div><div class="rl2" style="top:935px"></div>
<div class="rl" style="top:954px"></div><div class="rl2" style="top:954px"></div>
<div class="rl" style="top:972px"></div><div class="rl2" style="top:972px"></div>
<div class="vl" style="left:607.10px"></div>
<div class="vh" style="left:607.10px"></div>
<div class="vl" style="left:634.10px"></div>
<div class="vh" style="left:634.10px"></div>
<div class="vl" style="left:661.10px"></div>
<div class="vh" style="left:661.10px"></div>
<div class="vl" style="left:688.10px"></div>
<div class="vh" style="left:688.10px"></div>
<div class="vl" style="left:715.10px"></div>
<div class="vh" style="left:715.10px"></div>
<div class="vl" style="left:742.10px"></div>
<div class="vh" style="left:742.10px"></div>
<div class="vl" style="left:769.10px"></div>
<div class="vh" style="left:769.10px"></div>
<div class="vl" style="left:796.10px"></div>
<div class="vh" style="left:796.10px"></div>
<div class="vl" style="left:823.10px"></div>
<div class="vh" style="left:823.10px"></div>
<div class="vl" style="left:850.10px"></div>
<div class="vh" style="left:850.10px"></div>
<div class="vl" style="left:877.10px"></div>
<div class="vh" style="left:877.10px"></div>
<div class="vl" style="left:904.10px"></div>
<div class="vh" style="left:904.10px"></div>
<div class="vl" style="left:931.10px"></div>
<div class="vh" style="left:931.10px"></div>
<div class="vl" style="left:958.10px"></div>
<div class="vh" style="left:958.10px"></div>
<div class="vl" style="left:985.10px"></div>
<div class="vh" style="left:985.10px"></div>
<div class="vl" style="left:1012.10px"></div>
<div class="vh" style="left:1012.10px"></div>
<div class="vl" style="left:1039.10px"></div>
<div class="vh" style="left:1039.10px"></div>
<div class="vl" style="left:1066.10px"></div>
<div class="vh" style="left:1066.10px"></div>
<div class="vl" style="left:1093.10px"></div>
<div class="vh" style="left:1093.10px"></div>
<div class="vl" style="left:1120.10px"></div>
<div class="vh" style="left:1120.10px"></div>
<div class="vl" style="left:1147.10px"></div>
<div class="vh" style="left:1147.10px"></div>
<div class="vl" style="left:1174.10px"></div>
<div class="vh" style="left:1174.10px"></div>
<div class="vl" style="left:1201.10px"></div>
<div class="vh" style="left:1201.10px"></div>
<div class="vl" style="left:1228.10px"></div>
<div class="vh" style="left:1228.10px"></div>
<div class="vl" style="left:1255.10px"></div>
<div class="vh" style="left:1255.10px"></div>
<div class="vl" style="left:1282.10px"></div>
<div class="vh" style="left:1282.10px"></div>
<div class="vl" style="left:1309.10px"></div>
<div class="vh" style="left:1309.10px"></div>
<div class="vl" style="left:1336.10px"></div>
<div class="vh" style="left:1336.10px"></div>
<div class="vl" style="left:1363.10px"></div>
<div class="vh" style="left:1363.10px"></div>
<div class="vl" style="left:1390.10px"></div>
<div class="vh" style="left:1390.10px"></div>
<div class="vl" style="left:1417.10px"></div>
<div class="vh" style="left:1417.10px"></div>
<div class="vl" style="left:1444.10px"></div>
<div class="vh" style="left:1444.10px"></div>
<div class="vl" style="left:1471.10px"></div>
<div class="vh" style="left:1471.10px"></div>
<div class="vl" style="left:1498.10px"></div>
<div class="vh" style="left:1498.10px"></div>
<div class="vl" style="left:1525.10px"></div>
<div class="vh" style="left:1525.10px"></div>
<div class="vl" style="left:1552.10px"></div>
<div class="vh" style="left:1552.10px"></div>
<div class="vl" style="left:1579.10px"></div>
<div class="vh" style="left:1579.10px"></div>
<div class="cl" style="left:430.2px"></div>
<div class="cl" style="left:505.2px"></div>
<div class="cl" style="left:550.2px"></div>
<div class="cl2" style="left:580.0px"></div>
<div style="position:absolute;left:430.2px;top:328.2px;width:1px;height:43px;background:#ebe1d2"></div>
<div style="position:absolute;left:505.2px;top:328.2px;width:1px;height:43px;background:#ebe1d2"></div>
<div style="position:absolute;left:550.2px;top:328.2px;width:1px;height:43px;background:#ebe1d2"></div>
<div class="mh" style="left:580.4px;width:64.0px">March 2021</div>
<div class="mh" style="left:644.4px;width:118.0px">April 2021</div>
<div class="mvl" style="left:643.90px"></div>
<div class="mh" style="left:762.4px;width:117.0px">May 2021</div>
<div class="mvl" style="left:761.90px"></div>
<div class="mh" style="left:879.4px;width:118.0px">June 2021</div>
<div class="mvl" style="left:878.90px"></div>
<div class="mh" style="left:997.4px;width:119.00000000000011px">July 2021</div>
<div class="mvl" style="left:996.90px"></div>
<div class="mh" style="left:1116.4px;width:118.0px">August 2021</div>
<div class="mvl" style="left:1115.90px"></div>
<div class="mh" style="left:1234.4px;width:119.29999999999995px">September 2021</div>
<div class="mvl" style="left:1233.90px"></div>
<div class="mh" style="left:1353.7px;width:117.59999999999991px">October 2021</div>
<div class="mvl" style="left:1353.20px"></div>
<div class="mh" style="left:1471.3px;width:116.20000000000005px">November 2021</div>
<div class="mvl" style="left:1470.80px"></div>
<div class="mh" style="left:1587.5px;width:122.5px">December 2021</div>
<div class="mvl" style="left:1587.00px"></div>
<div style="position:absolute;left:580.4px;top:349px;width:1011.4px;height:0.9px;background:#e2e2e2"></div>
<div class="wh" style="left:580.60px">11</div>
<div class="wh" style="left:607.60px">12</div>
<div class="wh" style="left:634.60px">13</div>
<div class="wh" style="left:661.60px">14</div>
<div class="wh" style="left:688.60px">15</div>
<div class="wh" style="left:715.60px">16</div>
<div class="wh" style="left:742.60px">17</div>
<div class="wh" style="left:769.60px">18</div>
<div class="wh" style="left:796.60px">19</div>
<div class="wh" style="left:823.60px">20</div>
<div class="wh" style="left:850.60px">21</div>
<div class="wh" style="left:877.60px">22</div>
<div class="wh" style="left:904.60px">23</div>
<div class="wh" style="left:931.60px">24</div>
<div class="wh" style="left:958.60px">25</div>
<div class="wh" style="left:985.60px">26</div>
<div class="wh" style="left:1012.60px">27</div>
<div class="wh" style="left:1039.60px">28</div>
<div class="wh" style="left:1066.60px">29</div>
<div class="wh" style="left:1093.60px">30</div>
<div class="wh" style="left:1120.60px">31</div>
<div class="wh" style="left:1147.60px">32</div>
<div class="wh" style="left:1174.60px">33</div>
<div class="wh" style="left:1201.60px">34</div>
<div class="wh" style="left:1228.60px">35</div>
<div class="wh" style="left:1255.60px">36</div>
<div class="wh" style="left:1282.60px">37</div>
<div class="wh" style="left:1309.60px">38</div>
<div class="wh" style="left:1336.60px">39</div>
<div class="wh" style="left:1363.60px">40</div>
<div class="wh" style="left:1390.60px">41</div>
<div class="wh" style="left:1417.60px">42</div>
<div class="wh" style="left:1444.60px">43</div>
<div class="wh" style="left:1471.60px">44</div>
<div class="wh" style="left:1498.60px">45</div>
<div class="wh" style="left:1525.60px">46</div>
<div class="wh" style="left:1552.60px">47</div>
<div class="wh" style="left:1579.60px">48</div>
<div class="lh" style="left:195px;width:60px;top:342.6px">Subject</div>
<div class="lh" style="left:438px;width:60px;top:342.6px">Assignee</div>
<div class="lh" style="left:505.7px;width:45px;top:342.6px">ID</div>
<div class="lh" style="left:552.6px;width:27.4px;top:333px;text-align:left;overflow:hidden">Responsible</div>
<div class="lh" style="left:555.4px;width:24.6px;top:343.2px;text-align:left;overflow:hidden">Data Team</div>
<svg style="position:absolute;left:421.6px;top:332.8px" width="6" height="10.4" viewBox="0 0 6 10.4"><path d="M0.4 4 L3 0.6 L5.6 4 Z" fill="#cfd3d8"></path><path d="M0.4 6.2 L3 9.6 L5.6 6.2 Z" fill="#b4bac2"></path></svg>
<svg style="position:absolute;left:25px;top:356.6px" width="37" height="10" viewBox="0 0 37 10" fill="none"><path d="M0.6 1.6 V9.2 H10.6 V2.6 H4.4 V0.6 H0.6 Z" stroke="#8c8c8c" stroke-width="1"></path><path d="M18.4 1.4 L20.8 5.2 L18.4 9 L16 5.2 Z" fill="#8c8c8c"></path><path d="M25.6 4.4 H35 M28 5.6 L29 7.2 L30 5.6 Z" stroke="#8c8c8c" stroke-width="0.9"></path></svg>
<svg style="position:absolute;left:23.5px;top:377.10px" width="9" height="9" viewBox="0 0 9 9"><circle cx="4.5" cy="4.5" r="4.1" fill="#2d2d2d"></circle><rect x="3.1" y="4.05" width="2.8" height="0.95" fill="#d8d8d8"></rect></svg>
<svg style="position:absolute;left:36.0px;top:375.80px" width="14" height="10.4" viewBox="0 0 14 10.4" fill="none"><path d="M2 4.9 V1.5 C2 0.9 2.3 0.6 2.9 0.6 H7.4 C8 0.6 8.3 0.9 8.5 1.4 L9 2.6 H12.4 C13 2.6 13.3 2.9 13.3 3.5 V4.9" stroke="#a2a2a2" stroke-width="1.15" fill="#fff"></path><path d="M0.7 5 H12.2 L13.5 9.3 C13.6 9.7 13.4 9.9 13 9.9 H2.3 C1.9 9.9 1.7 9.7 1.6 9.3 Z" stroke="#a2a2a2" stroke-width="1.15" fill="#fff"></path></svg>
<div class="st b" style="left:50.7px;top:372px;max-width:379.1px">PTC PMO projects<svg class="mini" width="6.2" height="6.2" viewBox="0 0 8 8" fill="none"><rect x="0.6" y="2.6" width="4.8" height="4.8" stroke="#9a94ae" stroke-width="1.1"></rect><path d="M2.6 2.4 V0.6 H7.4 V5.4 H5.6" stroke="#9a94ae" stroke-width="1.1"></path></svg></div>
<svg style="position:absolute;left:53.8px;top:394.70px" width="9" height="11.6" viewBox="0 0 9 11.6"><path d="M0.4 0.2 H1.9 V7.6 H5 V4.4 L8.7 8.3 L5 11.5 V9.1 H0.4 Z" fill="#555"></path></svg>
<div class="st" style="left:65.7px;top:391px;max-width:364.1px">Example task<svg class="mini" width="6.2" height="6.2" viewBox="0 0 8 8" fill="none"><rect x="0.6" y="2.6" width="4.8" height="4.8" stroke="#9a94ae" stroke-width="1.1"></rect><path d="M2.6 2.4 V0.6 H7.4 V5.4 H5.6" stroke="#9a94ae" stroke-width="1.1"></path></svg></div>
<div class="ct" style="left:507.9px;top:391px">#86680<svg class="mini" width="6.2" height="6.2" viewBox="0 0 8 8" fill="none"><rect x="0.6" y="2.6" width="4.8" height="4.8" stroke="#9a94ae" stroke-width="1.1"></rect><path d="M2.6 2.4 V0.6 H7.4 V5.4 H5.6" stroke="#9a94ae" stroke-width="1.1"></path></svg></div>
<div class="ct" style="left:552.6px;top:391px;width:27.2px;overflow:hidden">EEE &gt;</div>
<svg style="position:absolute;left:38.5px;top:414.10px" width="9" height="9" viewBox="0 0 9 9"><circle cx="4.5" cy="4.5" r="4.1" fill="#2d2d2d"></circle><rect x="3.1" y="4.05" width="2.8" height="0.95" fill="#d8d8d8"></rect></svg>
<svg style="position:absolute;left:51.0px;top:413.80px" width="14" height="10.4" viewBox="0 0 14 10.4" fill="none"><path d="M2 4.9 V1.5 C2 0.9 2.3 0.6 2.9 0.6 H7.4 C8 0.6 8.3 0.9 8.5 1.4 L9 2.6 H12.4 C13 2.6 13.3 2.9 13.3 3.5 V4.9" stroke="#a2a2a2" stroke-width="1.15" fill="#fff"></path><path d="M0.7 5 H12.2 L13.5 9.3 C13.6 9.7 13.4 9.9 13 9.9 H2.3 C1.9 9.9 1.7 9.7 1.6 9.3 Z" stroke="#a2a2a2" stroke-width="1.15" fill="#fff"></path></svg>
<div class="st" style="left:65.7px;top:410px;max-width:364.1px">PMO project "DP021 SEC HiJet"<svg class="mini" width="6.2" height="6.2" viewBox="0 0 8 8" fill="none"><rect x="0.6" y="2.6" width="4.8" height="4.8" stroke="#9a94ae" stroke-width="1.1"></rect><path d="M2.6 2.4 V0.6 H7.4 V5.4 H5.6" stroke="#9a94ae" stroke-width="1.1"></path></svg></div>
<div class="ct" style="left:507.9px;top:410px">#86903<svg class="mini" width="6.2" height="6.2" viewBox="0 0 8 8" fill="none"><rect x="0.6" y="2.6" width="4.8" height="4.8" stroke="#9a94ae" stroke-width="1.1"></rect><path d="M2.6 2.4 V0.6 H7.4 V5.4 H5.6" stroke="#9a94ae" stroke-width="1.1"></path></svg></div>
<div class="ct" style="left:562.9px;top:410px;width:16.9px;overflow:hidden">NON</div>
<svg style="position:absolute;left:53.5px;top:433.10px" width="9" height="9" viewBox="0 0 9 9"><circle cx="4.5" cy="4.5" r="4.1" fill="#2d2d2d"></circle><rect x="3.1" y="4.05" width="2.8" height="0.95" fill="#d8d8d8"></rect></svg>
<svg style="position:absolute;left:66.0px;top:431.80px" width="14" height="10.4" viewBox="0 0 14 10.4" fill="none"><path d="M2 4.9 V1.5 C2 0.9 2.3 0.6 2.9 0.6 H7.4 C8 0.6 8.3 0.9 8.5 1.4 L9 2.6 H12.4 C13 2.6 13.3 2.9 13.3 3.5 V4.9" stroke="#a2a2a2" stroke-width="1.15" fill="#fff"></path><path d="M0.7 5 H12.2 L13.5 9.3 C13.6 9.7 13.4 9.9 13 9.9 H2.3 C1.9 9.9 1.7 9.7 1.6 9.3 Z" stroke="#a2a2a2" stroke-width="1.15" fill="#fff"></path></svg>
<div class="st" style="left:80.7px;top:429px;max-width:349.1px">Infrastructure Rack "DP021 SEC HiJet"<svg class="mini" width="6.2" height="6.2" viewBox="0 0 8 8" fill="none"><rect x="0.6" y="2.6" width="4.8" height="4.8" stroke="#9a94ae" stroke-width="1.1"></rect><path d="M2.6 2.4 V0.6 H7.4 V5.4 H5.6" stroke="#9a94ae" stroke-width="1.1"></path></svg></div>
<div class="ct" style="left:507.9px;top:429px">#86904<svg class="mini" width="6.2" height="6.2" viewBox="0 0 8 8" fill="none"><rect x="0.6" y="2.6" width="4.8" height="4.8" stroke="#9a94ae" stroke-width="1.1"></rect><path d="M2.6 2.4 V0.6 H7.4 V5.4 H5.6" stroke="#9a94ae" stroke-width="1.1"></path></svg></div>
<div class="ct" style="left:562.9px;top:429px;width:16.9px;overflow:hidden">NON</div>
<svg style="position:absolute;left:83.8px;top:450.70px" width="9" height="11.6" viewBox="0 0 9 11.6"><path d="M0.4 0.2 H1.9 V7.6 H5 V4.4 L8.7 8.3 L5 11.5 V9.1 H0.4 Z" fill="#555"></path></svg>
<div class="st" style="left:95.7px;top:447px;max-width:334.1px">Rack ordering "DP021 SEC HiJet"<svg class="mini" width="6.2" height="6.2" viewBox="0 0 8 8" fill="none"><rect x="0.6" y="2.6" width="4.8" height="4.8" stroke="#9a94ae" stroke-width="1.1"></rect><path d="M2.6 2.4 V0.6 H7.4 V5.4 H5.6" stroke="#9a94ae" stroke-width="1.1"></path></svg></div>
<div class="ct" style="left:433px;top:447px">Ulf Brueggmann</div>
<div class="ct" style="left:507.9px;top:447px">#86905<svg class="mini" width="6.2" height="6.2" viewBox="0 0 8 8" fill="none"><rect x="0.6" y="2.6" width="4.8" height="4.8" stroke="#9a94ae" stroke-width="1.1"></rect><path d="M2.6 2.4 V0.6 H7.4 V5.4 H5.6" stroke="#9a94ae" stroke-width="1.1"></path></svg></div>
<div class="ct" style="left:555.9px;top:447px;width:23.9px;overflow:hidden">EXT &gt;</div>
<svg style="position:absolute;left:83.8px;top:469.70px" width="9" height="11.6" viewBox="0 0 9 11.6"><path d="M0.4 0.2 H1.9 V7.6 H5 V4.4 L8.7 8.3 L5 11.5 V9.1 H0.4 Z" fill="#555"></path></svg>
<div class="st" style="left:95.7px;top:466px;max-width:334.1px">Rack cooling and power connections "DP021 SEC HiJet"<svg class="mini" width="6.2" height="6.2" viewBox="0 0 8 8" fill="none"><rect x="0.6" y="2.6" width="4.8" height="4.8" stroke="#9a94ae" stroke-width="1.1"></rect><path d="M2.6 2.4 V0.6 H7.4 V5.4 H5.6" stroke="#9a94ae" stroke-width="1.1"></path></svg></div>
<div class="ct" style="left:433px;top:466px">Ulf Brueggmann</div>
<div class="ct" style="left:507.9px;top:466px">#86906<svg class="mini" width="6.2" height="6.2" viewBox="0 0 8 8" fill="none"><rect x="0.6" y="2.6" width="4.8" height="4.8" stroke="#9a94ae" stroke-width="1.1"></rect><path d="M2.6 2.4 V0.6 H7.4 V5.4 H5.6" stroke="#9a94ae" stroke-width="1.1"></path></svg></div>
<div class="ct" style="left:555.9px;top:466px;width:23.9px;overflow:hidden">EXT &gt;</div>
<svg style="position:absolute;left:53.5px;top:489.10px" width="9" height="9" viewBox="0 0 9 9"><circle cx="4.5" cy="4.5" r="4.1" fill="#2d2d2d"></circle><rect x="3.1" y="4.05" width="2.8" height="0.95" fill="#d8d8d8"></rect></svg>
<svg style="position:absolute;left:66.0px;top:488.80px" width="14" height="10.4" viewBox="0 0 14 10.4" fill="none"><path d="M2 4.9 V1.5 C2 0.9 2.3 0.6 2.9 0.6 H7.4 C8 0.6 8.3 0.9 8.5 1.4 L9 2.6 H12.4 C13 2.6 13.3 2.9 13.3 3.5 V4.9" stroke="#a2a2a2" stroke-width="1.15" fill="#fff"></path><path d="M0.7 5 H12.2 L13.5 9.3 C13.6 9.7 13.4 9.9 13 9.9 H2.3 C1.9 9.9 1.7 9.7 1.6 9.3 Z" stroke="#a2a2a2" stroke-width="1.15" fill="#fff"></path></svg>
<div class="st" style="left:80.7px;top:485px;max-width:349.1px">Infrastructure Beckhoff "DP021 SEC HiJet"<svg class="mini" width="6.2" height="6.2" viewBox="0 0 8 8" fill="none"><rect x="0.6" y="2.6" width="4.8" height="4.8" stroke="#9a94ae" stroke-width="1.1"></rect><path d="M2.6 2.4 V0.6 H7.4 V5.4 H5.6" stroke="#9a94ae" stroke-width="1.1"></path></svg></div>
<div class="ct" style="left:507.9px;top:485px">#86907<svg class="mini" width="6.2" height="6.2" viewBox="0 0 8 8" fill="none"><rect x="0.6" y="2.6" width="4.8" height="4.8" stroke="#9a94ae" stroke-width="1.1"></rect><path d="M2.6 2.4 V0.6 H7.4 V5.4 H5.6" stroke="#9a94ae" stroke-width="1.1"></path></svg></div>
<div class="ct" style="left:562.9px;top:485px;width:16.9px;overflow:hidden">NON</div>
<svg style="position:absolute;left:83.8px;top:506.70px" width="9" height="11.6" viewBox="0 0 9 11.6"><path d="M0.4 0.2 H1.9 V7.6 H5 V4.4 L8.7 8.3 L5 11.5 V9.1 H0.4 Z" fill="#555"></path></svg>
<div class="st" style="left:95.7px;top:504px;max-width:334.1px">Electrical documentation - Planning of PLC related components "DP021 SEC HiJet"<svg class="mini" width="6.2" height="6.2" viewBox="0 0 8 8" fill="none"><rect x="0.6" y="2.6" width="4.8" height="4.8" stroke="#9a94ae" stroke-width="1.1"></rect><path d="M2.6 2.4 V0.6 H7.4 V5.4 H5.6" stroke="#9a94ae" stroke-width="1.1"></path></svg></div>
<div class="ct" style="left:507.9px;top:504px">#86908<svg class="mini" width="6.2" height="6.2" viewBox="0 0 8 8" fill="none"><rect x="0.6" y="2.6" width="4.8" height="4.8" stroke="#9a94ae" stroke-width="1.1"></rect><path d="M2.6 2.4 V0.6 H7.4 V5.4 H5.6" stroke="#9a94ae" stroke-width="1.1"></path></svg></div>
<div class="ct" style="left:552.6px;top:504px;width:27.2px;overflow:hidden">EEE &gt;</div>
<svg style="position:absolute;left:83.8px;top:525.70px" width="9" height="11.6" viewBox="0 0 9 11.6"><path d="M0.4 0.2 H1.9 V7.6 H5 V4.4 L8.7 8.3 L5 11.5 V9.1 H0.4 Z" fill="#555"></path></svg>
<div class="st" style="left:95.7px;top:522px;max-width:334.1px">PLC f/w development "DP021 SEC HiJet"<svg class="mini" width="6.2" height="6.2" viewBox="0 0 8 8" fill="none"><rect x="0.6" y="2.6" width="4.8" height="4.8" stroke="#9a94ae" stroke-width="1.1"></rect><path d="M2.6 2.4 V0.6 H7.4 V5.4 H5.6" stroke="#9a94ae" stroke-width="1.1"></path></svg></div>
<div class="ct" style="left:507.9px;top:522px">#86910<svg class="mini" width="6.2" height="6.2" viewBox="0 0 8 8" fill="none"><rect x="0.6" y="2.6" width="4.8" height="4.8" stroke="#9a94ae" stroke-width="1.1"></rect><path d="M2.6 2.4 V0.6 H7.4 V5.4 H5.6" stroke="#9a94ae" stroke-width="1.1"></path></svg></div>
<div class="ct" style="left:552.6px;top:522px;width:27.2px;overflow:hidden">EEE &gt;</div>
<svg style="position:absolute;left:83.8px;top:544.70px" width="9" height="11.6" viewBox="0 0 9 11.6"><path d="M0.4 0.2 H1.9 V7.6 H5 V4.4 L8.7 8.3 L5 11.5 V9.1 H0.4 Z" fill="#555"></path></svg>
<div class="st" style="left:95.7px;top:541px;max-width:334.1px">Electrical specification - Planning of cables and cable routing "DP021 SEC HiJet"<svg class="mini" width="6.2" height="6.2" viewBox="0 0 8 8" fill="none"><rect x="0.6" y="2.6" width="4.8" height="4.8" stroke="#9a94ae" stroke-width="1.1"></rect><path d="M2.6 2.4 V0.6 H7.4 V5.4 H5.6" stroke="#9a94ae" stroke-width="1.1"></path></svg></div>
<div class="ct" style="left:507.9px;top:541px">#96304<svg class="mini" width="6.2" height="6.2" viewBox="0 0 8 8" fill="none"><rect x="0.6" y="2.6" width="4.8" height="4.8" stroke="#9a94ae" stroke-width="1.1"></rect><path d="M2.6 2.4 V0.6 H7.4 V5.4 H5.6" stroke="#9a94ae" stroke-width="1.1"></path></svg></div>
<div class="ct" style="left:552.6px;top:541px;width:27.2px;overflow:hidden">EEE &gt;</div>
<svg style="position:absolute;left:83.8px;top:562.70px" width="9" height="11.6" viewBox="0 0 9 11.6"><path d="M0.4 0.2 H1.9 V7.6 H5 V4.4 L8.7 8.3 L5 11.5 V9.1 H0.4 Z" fill="#555"></path></svg>
<div class="st" style="left:95.7px;top:560px;max-width:334.1px">onsite cable preparation (collect,connectors, quality checks...) "DP021 SEC HiJet"<svg class="mini" width="6.2" height="6.2" viewBox="0 0 8 8" fill="none"><rect x="0.6" y="2.6" width="4.8" height="4.8" stroke="#9a94ae" stroke-width="1.1"></rect><path d="M2.6 2.4 V0.6 H7.4 V5.4 H5.6" stroke="#9a94ae" stroke-width="1.1"></path></svg></div>
<div class="ct" style="left:507.9px;top:560px">#86911<svg class="mini" width="6.2" height="6.2" viewBox="0 0 8 8" fill="none"><rect x="0.6" y="2.6" width="4.8" height="4.8" stroke="#9a94ae" stroke-width="1.1"></rect><path d="M2.6 2.4 V0.6 H7.4 V5.4 H5.6" stroke="#9a94ae" stroke-width="1.1"></path></svg></div>
<div class="ct" style="left:552.6px;top:560px;width:27.2px;overflow:hidden">EEE &gt;</div>
<svg style="position:absolute;left:83.8px;top:581.70px" width="9" height="11.6" viewBox="0 0 9 11.6"><path d="M0.4 0.2 H1.9 V7.6 H5 V4.4 L8.7 8.3 L5 11.5 V9.1 H0.4 Z" fill="#555"></path></svg>
<div class="st" style="left:95.7px;top:579px;max-width:334.1px">Cable installation management and handover SAT "DP021 SEC HiJet"<svg class="mini" width="6.2" height="6.2" viewBox="0 0 8 8" fill="none"><rect x="0.6" y="2.6" width="4.8" height="4.8" stroke="#9a94ae" stroke-width="1.1"></rect><path d="M2.6 2.4 V0.6 H7.4 V5.4 H5.6" stroke="#9a94ae" stroke-width="1.1"></path></svg></div>
<div class="ct" style="left:507.9px;top:579px">#86909<svg class="mini" width="6.2" height="6.2" viewBox="0 0 8 8" fill="none"><rect x="0.6" y="2.6" width="4.8" height="4.8" stroke="#9a94ae" stroke-width="1.1"></rect><path d="M2.6 2.4 V0.6 H7.4 V5.4 H5.6" stroke="#9a94ae" stroke-width="1.1"></path></svg></div>
<div class="ct" style="left:552.6px;top:579px;width:27.2px;overflow:hidden">EEE &gt;</div>
<svg style="position:absolute;left:53.5px;top:602.10px" width="9" height="9" viewBox="0 0 9 9"><circle cx="4.5" cy="4.5" r="4.1" fill="#2d2d2d"></circle><rect x="3.1" y="4.05" width="2.8" height="0.95" fill="#d8d8d8"></rect></svg>
<svg style="position:absolute;left:66.0px;top:600.80px" width="14" height="10.4" viewBox="0 0 14 10.4" fill="none"><path d="M2 4.9 V1.5 C2 0.9 2.3 0.6 2.9 0.6 H7.4 C8 0.6 8.3 0.9 8.5 1.4 L9 2.6 H12.4 C13 2.6 13.3 2.9 13.3 3.5 V4.9" stroke="#a2a2a2" stroke-width="1.15" fill="#fff"></path><path d="M0.7 5 H12.2 L13.5 9.3 C13.6 9.7 13.4 9.9 13 9.9 H2.3 C1.9 9.9 1.7 9.7 1.6 9.3 Z" stroke="#a2a2a2" stroke-width="1.15" fill="#fff"></path></svg>
<div class="st" style="left:80.7px;top:597px;max-width:349.1px">Infrastructure Network "DP021 SEC HiJet"<svg class="mini" width="6.2" height="6.2" viewBox="0 0 8 8" fill="none"><rect x="0.6" y="2.6" width="4.8" height="4.8" stroke="#9a94ae" stroke-width="1.1"></rect><path d="M2.6 2.4 V0.6 H7.4 V5.4 H5.6" stroke="#9a94ae" stroke-width="1.1"></path></svg></div>
<div class="ct" style="left:507.9px;top:597px">#86912<svg class="mini" width="6.2" height="6.2" viewBox="0 0 8 8" fill="none"><rect x="0.6" y="2.6" width="4.8" height="4.8" stroke="#9a94ae" stroke-width="1.1"></rect><path d="M2.6 2.4 V0.6 H7.4 V5.4 H5.6" stroke="#9a94ae" stroke-width="1.1"></path></svg></div>
<div class="ct" style="left:562.9px;top:597px;width:16.9px;overflow:hidden">NON</div>
<svg style="position:absolute;left:83.8px;top:619.70px" width="9" height="11.6" viewBox="0 0 9 11.6"><path d="M0.4 0.2 H1.9 V7.6 H5 V4.4 L8.7 8.3 L5 11.5 V9.1 H0.4 Z" fill="#555"></path></svg>
<div class="st" style="left:95.7px;top:616px;max-width:334.1px">Installation cable ordering "DP021 SEC HiJet"<svg class="mini" width="6.2" height="6.2" viewBox="0 0 8 8" fill="none"><rect x="0.6" y="2.6" width="4.8" height="4.8" stroke="#9a94ae" stroke-width="1.1"></rect><path d="M2.6 2.4 V0.6 H7.4 V5.4 H5.6" stroke="#9a94ae" stroke-width="1.1"></path></svg></div>
<div class="ct" style="left:507.9px;top:616px">#86913<svg class="mini" width="6.2" height="6.2" viewBox="0 0 8 8" fill="none"><rect x="0.6" y="2.6" width="4.8" height="4.8" stroke="#9a94ae" stroke-width="1.1"></rect><path d="M2.6 2.4 V0.6 H7.4 V5.4 H5.6" stroke="#9a94ae" stroke-width="1.1"></path></svg></div>
<div class="ct" style="left:555.2px;top:616px;width:24.6px;overflow:hidden">ITDM</div>
<svg style="position:absolute;left:83.8px;top:637.70px" width="9" height="11.6" viewBox="0 0 9 11.6"><path d="M0.4 0.2 H1.9 V7.6 H5 V4.4 L8.7 8.3 L5 11.5 V9.1 H0.4 Z" fill="#555"></path></svg>
<div class="st" style="left:95.7px;top:635px;max-width:334.1px">Installation management and handover SAT "DP021 SEC HiJet"<svg class="mini" width="6.2" height="6.2" viewBox="0 0 8 8" fill="none"><rect x="0.6" y="2.6" width="4.8" height="4.8" stroke="#9a94ae" stroke-width="1.1"></rect><path d="M2.6 2.4 V0.6 H7.4 V5.4 H5.6" stroke="#9a94ae" stroke-width="1.1"></path></svg></div>
<div class="ct" style="left:507.9px;top:635px">#86914<svg class="mini" width="6.2" height="6.2" viewBox="0 0 8 8" fill="none"><rect x="0.6" y="2.6" width="4.8" height="4.8" stroke="#9a94ae" stroke-width="1.1"></rect><path d="M2.6 2.4 V0.6 H7.4 V5.4 H5.6" stroke="#9a94ae" stroke-width="1.1"></path></svg></div>
<div class="ct" style="left:555.2px;top:635px;width:24.6px;overflow:hidden">ITDM</div>
<svg style="position:absolute;left:53.5px;top:658.10px" width="9" height="9" viewBox="0 0 9 9"><circle cx="4.5" cy="4.5" r="4.1" fill="#2d2d2d"></circle><rect x="3.1" y="4.05" width="2.8" height="0.95" fill="#d8d8d8"></rect></svg>
<svg style="position:absolute;left:66.0px;top:656.80px" width="14" height="10.4" viewBox="0 0 14 10.4" fill="none"><path d="M2 4.9 V1.5 C2 0.9 2.3 0.6 2.9 0.6 H7.4 C8 0.6 8.3 0.9 8.5 1.4 L9 2.6 H12.4 C13 2.6 13.3 2.9 13.3 3.5 V4.9" stroke="#a2a2a2" stroke-width="1.15" fill="#fff"></path><path d="M0.7 5 H12.2 L13.5 9.3 C13.6 9.7 13.4 9.9 13 9.9 H2.3 C1.9 9.9 1.7 9.7 1.6 9.3 Z" stroke="#a2a2a2" stroke-width="1.15" fill="#fff"></path></svg>
<div class="st" style="left:80.7px;top:654px;max-width:349.1px">Managing "DP021 SEC HiJet"<svg class="mini" width="6.2" height="6.2" viewBox="0 0 8 8" fill="none"><rect x="0.6" y="2.6" width="4.8" height="4.8" stroke="#9a94ae" stroke-width="1.1"></rect><path d="M2.6 2.4 V0.6 H7.4 V5.4 H5.6" stroke="#9a94ae" stroke-width="1.1"></path></svg></div>
<div class="ct" style="left:507.9px;top:654px">#86938<svg class="mini" width="6.2" height="6.2" viewBox="0 0 8 8" fill="none"><rect x="0.6" y="2.6" width="4.8" height="4.8" stroke="#9a94ae" stroke-width="1.1"></rect><path d="M2.6 2.4 V0.6 H7.4 V5.4 H5.6" stroke="#9a94ae" stroke-width="1.1"></path></svg></div>
<div class="ct" style="left:562.9px;top:654px;width:16.9px;overflow:hidden">NON</div>
<svg style="position:absolute;left:83.8px;top:675.70px" width="9" height="11.6" viewBox="0 0 9 11.6"><path d="M0.4 0.2 H1.9 V7.6 H5 V4.4 L8.7 8.3 L5 11.5 V9.1 H0.4 Z" fill="#555"></path></svg>
<div class="st" style="left:95.7px;top:672px;max-width:334.1px">Management "DP021 SEC HiJet"<svg class="mini" width="6.2" height="6.2" viewBox="0 0 8 8" fill="none"><rect x="0.6" y="2.6" width="4.8" height="4.8" stroke="#9a94ae" stroke-width="1.1"></rect><path d="M2.6 2.4 V0.6 H7.4 V5.4 H5.6" stroke="#9a94ae" stroke-width="1.1"></path></svg></div>
<div class="ct" style="left:507.9px;top:672px">#86939<svg class="mini" width="6.2" height="6.2" viewBox="0 0 8 8" fill="none"><rect x="0.6" y="2.6" width="4.8" height="4.8" stroke="#9a94ae" stroke-width="1.1"></rect><path d="M2.6 2.4 V0.6 H7.4 V5.4 H5.6" stroke="#9a94ae" stroke-width="1.1"></path></svg></div>
<div class="ct" style="left:552.4px;top:672px;width:27.4px;overflow:hidden">CTRL</div>
<svg style="position:absolute;left:83.8px;top:694.70px" width="9" height="11.6" viewBox="0 0 9 11.6"><path d="M0.4 0.2 H1.9 V7.6 H5 V4.4 L8.7 8.3 L5 11.5 V9.1 H0.4 Z" fill="#555"></path></svg>
<div class="st" style="left:95.7px;top:691px;max-width:334.1px">Meetings "DP021 SEC HiJet"<svg class="mini" width="6.2" height="6.2" viewBox="0 0 8 8" fill="none"><rect x="0.6" y="2.6" width="4.8" height="4.8" stroke="#9a94ae" stroke-width="1.1"></rect><path d="M2.6 2.4 V0.6 H7.4 V5.4 H5.6" stroke="#9a94ae" stroke-width="1.1"></path></svg></div>
<div class="ct" style="left:507.9px;top:691px">#86940<svg class="mini" width="6.2" height="6.2" viewBox="0 0 8 8" fill="none"><rect x="0.6" y="2.6" width="4.8" height="4.8" stroke="#9a94ae" stroke-width="1.1"></rect><path d="M2.6 2.4 V0.6 H7.4 V5.4 H5.6" stroke="#9a94ae" stroke-width="1.1"></path></svg></div>
<div class="ct" style="left:552.4px;top:691px;width:27.4px;overflow:hidden">CTRL</div>
<svg style="position:absolute;left:53.5px;top:714.10px" width="9" height="9" viewBox="0 0 9 9"><circle cx="4.5" cy="4.5" r="4.1" fill="#2d2d2d"></circle><rect x="3.1" y="4.05" width="2.8" height="0.95" fill="#d8d8d8"></rect></svg>
<svg style="position:absolute;left:66.0px;top:713.80px" width="14" height="10.4" viewBox="0 0 14 10.4" fill="none"><path d="M2 4.9 V1.5 C2 0.9 2.3 0.6 2.9 0.6 H7.4 C8 0.6 8.3 0.9 8.5 1.4 L9 2.6 H12.4 C13 2.6 13.3 2.9 13.3 3.5 V4.9" stroke="#a2a2a2" stroke-width="1.15" fill="#fff"></path><path d="M0.7 5 H12.2 L13.5 9.3 C13.6 9.7 13.4 9.9 13 9.9 H2.3 C1.9 9.9 1.7 9.7 1.6 9.3 Z" stroke="#a2a2a2" stroke-width="1.15" fill="#fff"></path></svg>
<div class="st" style="left:80.7px;top:710px;max-width:349.1px">Baseline Operability "DP021 SEC HiJet"<svg class="mini" width="6.2" height="6.2" viewBox="0 0 8 8" fill="none"><rect x="0.6" y="2.6" width="4.8" height="4.8" stroke="#9a94ae" stroke-width="1.1"></rect><path d="M2.6 2.4 V0.6 H7.4 V5.4 H5.6" stroke="#9a94ae" stroke-width="1.1"></path></svg></div>
<div class="ct" style="left:507.9px;top:710px">#86915<svg class="mini" width="6.2" height="6.2" viewBox="0 0 8 8" fill="none"><rect x="0.6" y="2.6" width="4.8" height="4.8" stroke="#9a94ae" stroke-width="1.1"></rect><path d="M2.6 2.4 V0.6 H7.4 V5.4 H5.6" stroke="#9a94ae" stroke-width="1.1"></path></svg></div>
<div class="ct" style="left:562.9px;top:710px;width:16.9px;overflow:hidden">NON</div>
<svg style="position:absolute;left:83.8px;top:731.70px" width="9" height="11.6" viewBox="0 0 9 11.6"><path d="M0.4 0.2 H1.9 V7.6 H5 V4.4 L8.7 8.3 L5 11.5 V9.1 H0.4 Z" fill="#555"></path></svg>
<div class="st" style="left:95.7px;top:729px;max-width:334.1px">Install IT active components "DP021 SEC HiJet"<svg class="mini" width="6.2" height="6.2" viewBox="0 0 8 8" fill="none"><rect x="0.6" y="2.6" width="4.8" height="4.8" stroke="#9a94ae" stroke-width="1.1"></rect><path d="M2.6 2.4 V0.6 H7.4 V5.4 H5.6" stroke="#9a94ae" stroke-width="1.1"></path></svg></div>
<div class="ct" style="left:507.9px;top:729px">#86916<svg class="mini" width="6.2" height="6.2" viewBox="0 0 8 8" fill="none"><rect x="0.6" y="2.6" width="4.8" height="4.8" stroke="#9a94ae" stroke-width="1.1"></rect><path d="M2.6 2.4 V0.6 H7.4 V5.4 H5.6" stroke="#9a94ae" stroke-width="1.1"></path></svg></div>
<div class="ct" style="left:555.2px;top:729px;width:24.6px;overflow:hidden">ITDM</div>
<svg style="position:absolute;left:83.8px;top:750.70px" width="9" height="11.6" viewBox="0 0 9 11.6"><path d="M0.4 0.2 H1.9 V7.6 H5 V4.4 L8.7 8.3 L5 11.5 V9.1 H0.4 Z" fill="#555"></path></svg>
<div class="st" style="left:95.7px;top:747px;max-width:334.1px">Karabo installation on LAB PC "DP021 SEC HiJet"<svg class="mini" width="6.2" height="6.2" viewBox="0 0 8 8" fill="none"><rect x="0.6" y="2.6" width="4.8" height="4.8" stroke="#9a94ae" stroke-width="1.1"></rect><path d="M2.6 2.4 V0.6 H7.4 V5.4 H5.6" stroke="#9a94ae" stroke-width="1.1"></path></svg></div>
<div class="ct" style="left:507.9px;top:747px">#86917<svg class="mini" width="6.2" height="6.2" viewBox="0 0 8 8" fill="none"><rect x="0.6" y="2.6" width="4.8" height="4.8" stroke="#9a94ae" stroke-width="1.1"></rect><path d="M2.6 2.4 V0.6 H7.4 V5.4 H5.6" stroke="#9a94ae" stroke-width="1.1"></path></svg></div>
<div class="ct" style="left:552.4px;top:747px;width:27.4px;overflow:hidden">CTRL</div>
<svg style="position:absolute;left:83.8px;top:769.70px" width="9" height="11.6" viewBox="0 0 9 11.6"><path d="M0.4 0.2 H1.9 V7.6 H5 V4.4 L8.7 8.3 L5 11.5 V9.1 H0.4 Z" fill="#555"></path></svg>
<div class="st" style="left:95.7px;top:766px;max-width:334.1px">Technical commission of MTCA crate "DP021 SEC HiJet"<svg class="mini" width="6.2" height="6.2" viewBox="0 0 8 8" fill="none"><rect x="0.6" y="2.6" width="4.8" height="4.8" stroke="#9a94ae" stroke-width="1.1"></rect><path d="M2.6 2.4 V0.6 H7.4 V5.4 H5.6" stroke="#9a94ae" stroke-width="1.1"></path></svg></div>
<div class="ct" style="left:507.9px;top:766px">#86918<svg class="mini" width="6.2" height="6.2" viewBox="0 0 8 8" fill="none"><rect x="0.6" y="2.6" width="4.8" height="4.8" stroke="#9a94ae" stroke-width="1.1"></rect><path d="M2.6 2.4 V0.6 H7.4 V5.4 H5.6" stroke="#9a94ae" stroke-width="1.1"></path></svg></div>
<div class="ct" style="left:552.6px;top:766px;width:27.2px;overflow:hidden">EEE &gt;</div>
<svg style="position:absolute;left:53.5px;top:789.10px" width="9" height="9" viewBox="0 0 9 9"><circle cx="4.5" cy="4.5" r="4.1" fill="#2d2d2d"></circle><rect x="3.1" y="4.05" width="2.8" height="0.95" fill="#d8d8d8"></rect></svg>
<svg style="position:absolute;left:66.0px;top:788.80px" width="14" height="10.4" viewBox="0 0 14 10.4" fill="none"><path d="M2 4.9 V1.5 C2 0.9 2.3 0.6 2.9 0.6 H7.4 C8 0.6 8.3 0.9 8.5 1.4 L9 2.6 H12.4 C13 2.6 13.3 2.9 13.3 3.5 V4.9" stroke="#a2a2a2" stroke-width="1.15" fill="#fff"></path><path d="M0.7 5 H12.2 L13.5 9.3 C13.6 9.7 13.4 9.9 13 9.9 H2.3 C1.9 9.9 1.7 9.7 1.6 9.3 Z" stroke="#a2a2a2" stroke-width="1.15" fill="#fff"></path></svg>
<div class="st" style="left:80.7px;top:785px;max-width:349.1px">Device Integration "DP021 SEC HiJet"<svg class="mini" width="6.2" height="6.2" viewBox="0 0 8 8" fill="none"><rect x="0.6" y="2.6" width="4.8" height="4.8" stroke="#9a94ae" stroke-width="1.1"></rect><path d="M2.6 2.4 V0.6 H7.4 V5.4 H5.6" stroke="#9a94ae" stroke-width="1.1"></path></svg></div>
<div class="ct" style="left:507.9px;top:785px">#86932<svg class="mini" width="6.2" height="6.2" viewBox="0 0 8 8" fill="none"><rect x="0.6" y="2.6" width="4.8" height="4.8" stroke="#9a94ae" stroke-width="1.1"></rect><path d="M2.6 2.4 V0.6 H7.4 V5.4 H5.6" stroke="#9a94ae" stroke-width="1.1"></path></svg></div>
<div class="ct" style="left:562.9px;top:785px;width:16.9px;overflow:hidden">NON</div>
<svg style="position:absolute;left:83.8px;top:806.70px" width="9" height="11.6" viewBox="0 0 9 11.6"><path d="M0.4 0.2 H1.9 V7.6 H5 V4.4 L8.7 8.3 L5 11.5 V9.1 H0.4 Z" fill="#555"></path></svg>
<div class="st" style="left:95.7px;top:804px;max-width:334.1px">IMAGING Photron AX200 mini integration "DP021 SEC HiJet"<svg class="mini" width="6.2" height="6.2" viewBox="0 0 8 8" fill="none"><rect x="0.6" y="2.6" width="4.8" height="4.8" stroke="#9a94ae" stroke-width="1.1"></rect><path d="M2.6 2.4 V0.6 H7.4 V5.4 H5.6" stroke="#9a94ae" stroke-width="1.1"></path></svg></div>
<div class="ct" style="left:507.9px;top:804px">#86933<svg class="mini" width="6.2" height="6.2" viewBox="0 0 8 8" fill="none"><rect x="0.6" y="2.6" width="4.8" height="4.8" stroke="#9a94ae" stroke-width="1.1"></rect><path d="M2.6 2.4 V0.6 H7.4 V5.4 H5.6" stroke="#9a94ae" stroke-width="1.1"></path></svg></div>
<div class="ct" style="left:552.4px;top:804px;width:27.4px;overflow:hidden">CTRL</div>
<svg style="position:absolute;left:83.8px;top:825.70px" width="9" height="11.6" viewBox="0 0 9 11.6"><path d="M0.4 0.2 H1.9 V7.6 H5 V4.4 L8.7 8.3 L5 11.5 V9.1 H0.4 Z" fill="#555"></path></svg>
<div class="st" style="left:95.7px;top:822px;max-width:334.1px">Shimadzu HPLC system "DP021 SEC HiJet"<svg class="mini" width="6.2" height="6.2" viewBox="0 0 8 8" fill="none"><rect x="0.6" y="2.6" width="4.8" height="4.8" stroke="#9a94ae" stroke-width="1.1"></rect><path d="M2.6 2.4 V0.6 H7.4 V5.4 H5.6" stroke="#9a94ae" stroke-width="1.1"></path></svg></div>
<div class="ct" style="left:507.9px;top:822px">#86934<svg class="mini" width="6.2" height="6.2" viewBox="0 0 8 8" fill="none"><rect x="0.6" y="2.6" width="4.8" height="4.8" stroke="#9a94ae" stroke-width="1.1"></rect><path d="M2.6 2.4 V0.6 H7.4 V5.4 H5.6" stroke="#9a94ae" stroke-width="1.1"></path></svg></div>
<div class="ct" style="left:552.4px;top:822px;width:27.4px;overflow:hidden">CTRL</div>
<svg style="position:absolute;left:83.8px;top:844.70px" width="9" height="11.6" viewBox="0 0 9 11.6"><path d="M0.4 0.2 H1.9 V7.6 H5 V4.4 L8.7 8.3 L5 11.5 V9.1 H0.4 Z" fill="#555"></path></svg>
<div class="st" style="left:95.7px;top:841px;max-width:334.1px">Brainstorm requiremenst and solutions "DP021 SEC HiJet"<svg class="mini" width="6.2" height="6.2" viewBox="0 0 8 8" fill="none"><rect x="0.6" y="2.6" width="4.8" height="4.8" stroke="#9a94ae" stroke-width="1.1"></rect><path d="M2.6 2.4 V0.6 H7.4 V5.4 H5.6" stroke="#9a94ae" stroke-width="1.1"></path></svg></div>
<div class="ct" style="left:507.9px;top:841px">#86935<svg class="mini" width="6.2" height="6.2" viewBox="0 0 8 8" fill="none"><rect x="0.6" y="2.6" width="4.8" height="4.8" stroke="#9a94ae" stroke-width="1.1"></rect><path d="M2.6 2.4 V0.6 H7.4 V5.4 H5.6" stroke="#9a94ae" stroke-width="1.1"></path></svg></div>
<div class="ct" style="left:570px;top:841px;width:9.8px;overflow:hidden">DA</div>
<svg style="position:absolute;left:53.5px;top:864.10px" width="9" height="9" viewBox="0 0 9 9"><circle cx="4.5" cy="4.5" r="4.1" fill="#2d2d2d"></circle><rect x="3.1" y="4.05" width="2.8" height="0.95" fill="#d8d8d8"></rect></svg>
<svg style="position:absolute;left:66.0px;top:863.80px" width="14" height="10.4" viewBox="0 0 14 10.4" fill="none"><path d="M2 4.9 V1.5 C2 0.9 2.3 0.6 2.9 0.6 H7.4 C8 0.6 8.3 0.9 8.5 1.4 L9 2.6 H12.4 C13 2.6 13.3 2.9 13.3 3.5 V4.9" stroke="#a2a2a2" stroke-width="1.15" fill="#fff"></path><path d="M0.7 5 H12.2 L13.5 9.3 C13.6 9.7 13.4 9.9 13 9.9 H2.3 C1.9 9.9 1.7 9.7 1.6 9.3 Z" stroke="#a2a2a2" stroke-width="1.15" fill="#fff"></path></svg>
<div class="st" style="left:80.7px;top:860px;max-width:349.1px">Beckhoff Commissioning "DP021 SEC HiJet"<svg class="mini" width="6.2" height="6.2" viewBox="0 0 8 8" fill="none"><rect x="0.6" y="2.6" width="4.8" height="4.8" stroke="#9a94ae" stroke-width="1.1"></rect><path d="M2.6 2.4 V0.6 H7.4 V5.4 H5.6" stroke="#9a94ae" stroke-width="1.1"></path></svg></div>
<div class="ct" style="left:507.9px;top:860px">#86919<svg class="mini" width="6.2" height="6.2" viewBox="0 0 8 8" fill="none"><rect x="0.6" y="2.6" width="4.8" height="4.8" stroke="#9a94ae" stroke-width="1.1"></rect><path d="M2.6 2.4 V0.6 H7.4 V5.4 H5.6" stroke="#9a94ae" stroke-width="1.1"></path></svg></div>
<div class="ct" style="left:562.9px;top:860px;width:16.9px;overflow:hidden">NON</div>
<svg style="position:absolute;left:83.8px;top:881.70px" width="9" height="11.6" viewBox="0 0 9 11.6"><path d="M0.4 0.2 H1.9 V7.6 H5 V4.4 L8.7 8.3 L5 11.5 V9.1 H0.4 Z" fill="#555"></path></svg>
<div class="st" style="left:95.7px;top:879px;max-width:334.1px">Install 24V/48V power line "DP021 SEC HiJet"<svg class="mini" width="6.2" height="6.2" viewBox="0 0 8 8" fill="none"><rect x="0.6" y="2.6" width="4.8" height="4.8" stroke="#9a94ae" stroke-width="1.1"></rect><path d="M2.6 2.4 V0.6 H7.4 V5.4 H5.6" stroke="#9a94ae" stroke-width="1.1"></path></svg></div>
<div class="ct" style="left:507.9px;top:879px">#86920<svg class="mini" width="6.2" height="6.2" viewBox="0 0 8 8" fill="none"><rect x="0.6" y="2.6" width="4.8" height="4.8" stroke="#9a94ae" stroke-width="1.1"></rect><path d="M2.6 2.4 V0.6 H7.4 V5.4 H5.6" stroke="#9a94ae" stroke-width="1.1"></path></svg></div>
<div class="ct" style="left:551.8px;top:879px;width:28.0px;overflow:hidden">EEE &gt;</div>
<svg style="position:absolute;left:83.8px;top:900.70px" width="9" height="11.6" viewBox="0 0 9 11.6"><path d="M0.4 0.2 H1.9 V7.6 H5 V4.4 L8.7 8.3 L5 11.5 V9.1 H0.4 Z" fill="#555"></path></svg>
<div class="st" style="left:95.7px;top:897px;max-width:334.1px">Install Beckhoff PLC System "DP021 SEC HiJet"<svg class="mini" width="6.2" height="6.2" viewBox="0 0 8 8" fill="none"><rect x="0.6" y="2.6" width="4.8" height="4.8" stroke="#9a94ae" stroke-width="1.1"></rect><path d="M2.6 2.4 V0.6 H7.4 V5.4 H5.6" stroke="#9a94ae" stroke-width="1.1"></path></svg></div>
<div class="ct" style="left:507.9px;top:897px">#86921<svg class="mini" width="6.2" height="6.2" viewBox="0 0 8 8" fill="none"><rect x="0.6" y="2.6" width="4.8" height="4.8" stroke="#9a94ae" stroke-width="1.1"></rect><path d="M2.6 2.4 V0.6 H7.4 V5.4 H5.6" stroke="#9a94ae" stroke-width="1.1"></path></svg></div>
<div class="ct" style="left:551.8px;top:897px;width:28.0px;overflow:hidden">EEE &gt;</div>
<svg style="position:absolute;left:83.8px;top:919.70px" width="9" height="11.6" viewBox="0 0 9 11.6"><path d="M0.4 0.2 H1.9 V7.6 H5 V4.4 L8.7 8.3 L5 11.5 V9.1 H0.4 Z" fill="#555"></path></svg>
<div class="st" style="left:95.7px;top:916px;max-width:334.1px">Commission loop "DP021 SEC HiJet"<svg class="mini" width="6.2" height="6.2" viewBox="0 0 8 8" fill="none"><rect x="0.6" y="2.6" width="4.8" height="4.8" stroke="#9a94ae" stroke-width="1.1"></rect><path d="M2.6 2.4 V0.6 H7.4 V5.4 H5.6" stroke="#9a94ae" stroke-width="1.1"></path></svg></div>
<div class="ct" style="left:507.9px;top:916px">#86922<svg class="mini" width="6.2" height="6.2" viewBox="0 0 8 8" fill="none"><rect x="0.6" y="2.6" width="4.8" height="4.8" stroke="#9a94ae" stroke-width="1.1"></rect><path d="M2.6 2.4 V0.6 H7.4 V5.4 H5.6" stroke="#9a94ae" stroke-width="1.1"></path></svg></div>
<div class="ct" style="left:552.6px;top:916px;width:27.2px;overflow:hidden">EEE &gt;</div>
<svg style="position:absolute;left:53.5px;top:939.10px" width="9" height="9" viewBox="0 0 9 9"><circle cx="4.5" cy="4.5" r="4.1" fill="#2d2d2d"></circle><rect x="3.1" y="4.05" width="2.8" height="0.95" fill="#d8d8d8"></rect></svg>
<svg style="position:absolute;left:66.0px;top:938.80px" width="14" height="10.4" viewBox="0 0 14 10.4" fill="none"><path d="M2 4.9 V1.5 C2 0.9 2.3 0.6 2.9 0.6 H7.4 C8 0.6 8.3 0.9 8.5 1.4 L9 2.6 H12.4 C13 2.6 13.3 2.9 13.3 3.5 V4.9" stroke="#a2a2a2" stroke-width="1.15" fill="#fff"></path><path d="M0.7 5 H12.2 L13.5 9.3 C13.6 9.7 13.4 9.9 13 9.9 H2.3 C1.9 9.9 1.7 9.7 1.6 9.3 Z" stroke="#a2a2a2" stroke-width="1.15" fill="#fff"></path></svg>
<div class="st" style="left:80.7px;top:935px;max-width:349.1px">Device Commissioning "DP021 SEC HiJet"<svg class="mini" width="6.2" height="6.2" viewBox="0 0 8 8" fill="none"><rect x="0.6" y="2.6" width="4.8" height="4.8" stroke="#9a94ae" stroke-width="1.1"></rect><path d="M2.6 2.4 V0.6 H7.4 V5.4 H5.6" stroke="#9a94ae" stroke-width="1.1"></path></svg></div>
<div class="ct" style="left:507.9px;top:935px">#86923<svg class="mini" width="6.2" height="6.2" viewBox="0 0 8 8" fill="none"><rect x="0.6" y="2.6" width="4.8" height="4.8" stroke="#9a94ae" stroke-width="1.1"></rect><path d="M2.6 2.4 V0.6 H7.4 V5.4 H5.6" stroke="#9a94ae" stroke-width="1.1"></path></svg></div>
<div class="ct" style="left:562.9px;top:935px;width:16.9px;overflow:hidden">NON</div>
<svg style="position:absolute;left:83.8px;top:956.70px" width="9" height="11.6" viewBox="0 0 9 11.6"><path d="M0.4 0.2 H1.9 V7.6 H5 V4.4 L8.7 8.3 L5 11.5 V9.1 H0.4 Z" fill="#555"></path></svg>
<div class="st" style="left:95.7px;top:954px;max-width:334.1px">Installation of Device "DP021 SEC HiJet"<svg class="mini" width="6.2" height="6.2" viewBox="0 0 8 8" fill="none"><rect x="0.6" y="2.6" width="4.8" height="4.8" stroke="#9a94ae" stroke-width="1.1"></rect><path d="M2.6 2.4 V0.6 H7.4 V5.4 H5.6" stroke="#9a94ae" stroke-width="1.1"></path></svg></div>
<div class="ct" style="left:507.9px;top:954px">#86924<svg class="mini" width="6.2" height="6.2" viewBox="0 0 8 8" fill="none"><rect x="0.6" y="2.6" width="4.8" height="4.8" stroke="#9a94ae" stroke-width="1.1"></rect><path d="M2.6 2.4 V0.6 H7.4 V5.4 H5.6" stroke="#9a94ae" stroke-width="1.1"></path></svg></div>
<div class="ct" style="left:552.4px;top:954px;width:27.4px;overflow:hidden">CTRL</div>
<svg style="position:absolute;left:0;top:0" width="1657" height="976" viewBox="0 0 1657 976" fill="none">
<rect x="608.5" y="375.5" width="991.0" height="14.0" rx="1.4" fill="#5aa4e1" fill-opacity="0.7" stroke="#5f9fdc" stroke-width="1"></rect>
<rect x="608.5" y="394.5" width="11.0" height="14.0" rx="1.25" fill="#e8acb9" fill-opacity="0.3" stroke="#c9243b" stroke-width="1"></rect>
<rect x="608.5" y="412.5" width="748.0" height="14.0" rx="1.25" fill="#c6e5c6" fill-opacity="0.3" stroke="#7cc06f" stroke-width="1"></rect>
<rect x="608.5" y="431.5" width="343.0" height="14.0" rx="1.25" fill="#c6e5c6" fill-opacity="0.3" stroke="#7cc06f" stroke-width="1"></rect>
<rect x="608.5" y="450.5" width="3.0" height="14.0" rx="1.7" fill="#d0405a" fill-opacity="0.55" stroke="#c9243b" stroke-width="1"></rect>
<rect x="905.5" y="469.5" width="46.0" height="14.0" rx="1.25" fill="#c6e5c6" fill-opacity="0.3" stroke="#7cc06f" stroke-width="1"></rect>
<rect x="608.5" y="487.5" width="651.0" height="14.0" rx="1.25" fill="#c6e5c6" fill-opacity="0.3" stroke="#7cc06f" stroke-width="1"></rect>
<rect x="608.5" y="506.5" width="169.0" height="14.0" rx="1.25" fill="#e8acb9" fill-opacity="0.3" stroke="#c9243b" stroke-width="1"></rect>
<rect x="778.5" y="525.5" width="26.0" height="14.0" rx="1.25" fill="#e8acb9" fill-opacity="0.3" stroke="#c9243b" stroke-width="1"></rect>
<rect x="778.5" y="544.5" width="84.0" height="14.0" rx="1.25" fill="#c6e5c6" fill-opacity="0.3" stroke="#7cc06f" stroke-width="1"></rect>
<rect x="1056.5" y="562.5" width="122.0" height="14.0" rx="1.25" fill="#c6e5c6" fill-opacity="0.3" stroke="#7cc06f" stroke-width="1"></rect>
<rect x="1179.5" y="581.5" width="80.0" height="14.0" rx="1.25" fill="#c6e5c6" fill-opacity="0.3" stroke="#7cc06f" stroke-width="1"></rect>
<rect x="608.5" y="600.5" width="353.0" height="14.0" rx="1.25" fill="#c6e5c6" fill-opacity="0.3" stroke="#7cc06f" stroke-width="1"></rect>
<rect x="608.5" y="619.5" width="3.0" height="14.0" rx="1.7" fill="#e8acb9" fill-opacity="0.2" stroke="#c9243b" stroke-width="1"></rect>
<rect x="958.5" y="637.5" width="4.0" height="14.0" rx="1.7" fill="#c6e5c6" fill-opacity="0.3" stroke="#7cc06f" stroke-width="1"></rect>
<rect x="608.5" y="656.5" width="7.0" height="14.0" rx="1.25" fill="#e8acb9" fill-opacity="0.3" stroke="#c9243b" stroke-width="1"></rect>
<rect x="608.5" y="675.5" width="3.0" height="14.0" rx="1.7" fill="#e8acb9" fill-opacity="0.2" stroke="#c9243b" stroke-width="1"></rect>
<rect x="608.5" y="694.5" width="7.0" height="14.0" rx="1.25" fill="#e8acb9" fill-opacity="0.3" stroke="#c9243b" stroke-width="1"></rect>
<rect x="963.5" y="712.5" width="33.0" height="14.0" rx="1.25" fill="#c6e5c6" fill-opacity="0.3" stroke="#7cc06f" stroke-width="1"></rect>
<rect x="963.5" y="731.5" width="26.0" height="14.0" rx="1.25" fill="#c6e5c6" fill-opacity="0.3" stroke="#7cc06f" stroke-width="1"></rect>
<rect x="990.5" y="750.5" width="3.0" height="14.0" rx="1.7" fill="#c6e5c6" fill-opacity="0.3" stroke="#7cc06f" stroke-width="1"></rect>
<rect x="994.5" y="769.5" width="3.0" height="14.0" rx="1.7" fill="#c6e5c6" fill-opacity="0.3" stroke="#7cc06f" stroke-width="1"></rect>
<rect x="999.5" y="787.5" width="106.0" height="14.0" rx="1.25" fill="#c6e5c6" fill-opacity="0.3" stroke="#7cc06f" stroke-width="1"></rect>
<rect x="999.5" y="806.5" width="106.0" height="14.0" rx="1.25" fill="#c6e5c6" fill-opacity="0.3" stroke="#7cc06f" stroke-width="1"></rect>
<rect x="999.5" y="825.5" width="52.0" height="14.0" rx="1.25" fill="#c6e5c6" fill-opacity="0.3" stroke="#7cc06f" stroke-width="1"></rect>
<rect x="999.5" y="844.5" width="5.0" height="14.0" rx="1.25" fill="#c6e5c6" fill-opacity="0.3" stroke="#7cc06f" stroke-width="1"></rect>
<rect x="1260.5" y="862.5" width="37.0" height="14.0" rx="1.25" fill="#dde98c" fill-opacity="0.5" stroke="#7cc06f" stroke-width="1"></rect>
<rect x="1260.5" y="881.5" width="3.0" height="14.0" rx="1.7" fill="#c6e5c6" fill-opacity="0.3" stroke="#7cc06f" stroke-width="1"></rect>
<rect x="1264.5" y="900.5" width="10.0" height="14.0" rx="1.25" fill="#c6e5c6" fill-opacity="0.3" stroke="#7cc06f" stroke-width="1"></rect>
<rect x="1283.5" y="919.5" width="15.0" height="14.0" rx="1.25" fill="#c6e5c6" fill-opacity="0.3" stroke="#7cc06f" stroke-width="1"></rect>
<rect x="1299.5" y="937.5" width="53.0" height="14.0" rx="1.25" fill="#c6e5c6" fill-opacity="0.3" stroke="#7cc06f" stroke-width="1"></rect>
<path d="M608.0 427.00 H615.0 L608.0 432.30 Z" fill="#6dba60"></path>
<path d="M1357.0 427.00 H1350.4 L1357.0 432.80 Z" fill="#6dba60"></path>
<path d="M608.0 446.00 H615.0 L608.0 451.30 Z" fill="#6dba60"></path>
<path d="M952.0 446.00 H945.4 L952.0 451.80 Z" fill="#6dba60"></path>
<path d="M608.0 502.00 H615.0 L608.0 507.30 Z" fill="#6dba60"></path>
<path d="M1260.0 502.00 H1253.4 L1260.0 507.80 Z" fill="#6dba60"></path>
<path d="M608.0 615.00 H615.0 L608.0 620.30 Z" fill="#6dba60"></path>
<path d="M962.0 615.00 H955.4 L962.0 620.80 Z" fill="#6dba60"></path>
<path d="M608.0 671.00 H611.5 L608.0 676.30 Z" fill="#c9243b"></path>
<path d="M616.0 671.00 H612.5 L616.0 676.80 Z" fill="#c9243b"></path>
<path d="M963.0 727.00 H970.0 L963.0 732.30 Z" fill="#6dba60"></path>
<path d="M997.0 727.00 H990.4 L997.0 732.80 Z" fill="#6dba60"></path>
<path d="M999.0 802.00 H1006.0 L999.0 807.30 Z" fill="#6dba60"></path>
<path d="M1106.0 802.00 H1099.4 L1106.0 807.80 Z" fill="#6dba60"></path>
<path d="M1260.0 877.00 H1267.0 L1260.0 882.30 Z" fill="#6dba60"></path>
<path d="M1298.0 877.00 H1291.4 L1298.0 882.80 Z" fill="#6dba60"></path>
<path d="M1299.0 952.00 H1306.0 L1299.0 957.30 Z" fill="#6dba60"></path>
<path d="M1353.0 952.00 H1346.4 L1353.0 957.80 Z" fill="#6dba60"></path>
<rect x="811.15" y="372.6" width="1.7" height="600" fill="#e48888" fill-opacity="0.92"></rect>
<path d="M951.7 438.8 L961.2 438.8 L961.2 448.2 L951.9 448.2 L951.9 640.6 L957.0 640.6 M611.9 457.3 L622.9 457.3 L622.9 475.9 L901.0 475.9 M1259.5 494.8 L1269.4 494.8 L1269.4 504.2 L1253.2 504.2 L1253.2 874.6 L1256.0 874.6 M777.6 508.9 L787.1 508.9 L787.1 527.8 L771.2 527.8 M787.1 518.1 L771.2 518.1 L771.2 551.3 L774.0 551.3 M771.2 532.2 L774.0 532.2 M804.7 532.7 L813.3 532.7 L813.3 921.9 L1279.0 921.9 M862.8 550.7 L873.1 550.7 L873.1 570.0 L1051.0 570.0 M1178.5 569.9 L1188.1 569.9 L1188.1 579.1 L1171.8 579.1 L1171.8 588.2 L1174.0 588.2 M962.4 607.9 L971.3 607.9 L971.3 617.3 L956.9 617.3 L956.9 720.3 L958.0 720.3 M611.9 625.9 L622.9 625.9 L622.9 649.7 L956.9 649.7 M996.8 715.8 L1005.3 715.8 L1005.3 865.7 L1254.0 865.7 M996.8 724.6 L1007.0 724.6 L1007.0 733.8 L990.1 733.8 L990.1 795.6 L994.0 795.6 M989.7 738.9 L999.2 738.9 L999.2 748.1 L982.8 748.1 L982.8 758.0 L985.0 758.0 M993.8 758.0 L1005.3 758.0 M1005.3 767.3 L984.7 767.3 L984.7 776.4 L988.0 776.4 M1105.6 794.7 L1113.3 794.7 L1113.3 972.0 M1303.0 870.0 L1309.4 870.0 L1309.4 879.1 L1289.9 879.1 L1289.9 945.5 L1293.0 945.5 M1263.8 888.9 L1275.2 888.9 L1275.2 898.2 L1254.8 898.2 L1254.8 908.0 L1258.0 908.0 M1274.7 908.0 L1285.4 908.0 L1285.4 917.3 L1275.8 917.3 L1275.8 931.1 L1279.0 931.1 M1352.7 944.6 L1363.5 944.6 L1363.5 953.7 L1343.7 953.7 L1343.7 972.0" stroke="#4a8a3a" stroke-width="2" stroke-linejoin="miter"></path>
<rect x="1004.6" y="724" width="3.2" height="10.4" fill="#4a8a3a"></rect>
<path d="M905.5 475.9 L900.5 471.7 V480.1 Z" fill="#4a8a3a"></path>
<path d="M1260.2 874.6 L1255.2 870.4 V878.8 Z" fill="#4a8a3a"></path>
<path d="M778.2 532.2 L773.2 528.0 V536.4 Z" fill="#4a8a3a"></path>
<path d="M778.2 551.3 L773.2 547.1 V555.5 Z" fill="#4a8a3a"></path>
<path d="M1283.2 921.9 L1278.2 917.7 V926.1 Z" fill="#4a8a3a"></path>
<path d="M1055.6 570.0 L1050.6 565.8 V574.2 Z" fill="#4a8a3a"></path>
<path d="M1178.6 588.2 L1173.6 584.0 V592.4 Z" fill="#4a8a3a"></path>
<path d="M962.6 720.3 L957.6 716.1 V724.5 Z" fill="#4a8a3a"></path>
<path d="M1259.6 865.7 L1254.6 861.5 V869.9 Z" fill="#4a8a3a"></path>
<path d="M998.2 795.6 L993.2 791.4 V799.8 Z" fill="#4a8a3a"></path>
<path d="M989.8 758.0 L984.8 753.8 V762.2 Z" fill="#4a8a3a"></path>
<path d="M993.4 776.4 L988.4 772.2 V780.6 Z" fill="#4a8a3a"></path>
<path d="M1298.4 945.5 L1293.4 941.3 V949.7 Z" fill="#4a8a3a"></path>
<path d="M1263.4 908.0 L1258.4 903.8 V912.2 Z" fill="#4a8a3a"></path>
<path d="M1283.2 931.1 L1278.2 926.9 V935.3 Z" fill="#4a8a3a"></path>
<path d="M1260.9 863.8 A5.5 5.5 0 0 0 1260.9 874.8 Z" fill="#c2463a"></path>
<path d="M1297.3 863.8 A5.5 5.5 0 0 1 1297.3 874.8 Z" fill="#c2463a"></path>
<path d="M1255 880 L1260 872.4 L1265 880 Z" fill="#c2463a"></path>
<text x="759.6" y="475.6" font-family="Liberation Sans" font-size="9.75" fill="#3c3c3c" fill-opacity="0.92">50 (76)</text>
<text x="960.4" y="569.2" font-family="Liberation Sans" font-size="9.75" fill="#3c3c3c" fill-opacity="0.92">(50)</text>
<text x="787.2" y="648.8" font-family="Liberation Sans" font-size="9.75" fill="#3c3c3c" fill-opacity="0.92">15 (90)</text>
<text x="951.6" y="640.2" font-family="Liberation Sans" font-size="9.75" fill="#3c3c3c" fill-opacity="0.92">(2)</text>
<text x="1128.6" y="865" font-family="Liberation Sans" font-size="9.75" fill="#3c3c3c" fill-opacity="0.92">(68)</text>
<text x="1043" y="920.6" font-family="Liberation Sans" font-size="9.75" fill="#3c3c3c" fill-opacity="0.92">(124)</text>
<text x="1276.6" y="930.6" font-family="Liberation Sans" font-size="9.75" fill="#3c3c3c" fill-opacity="0.92">(2)</text>
</svg>
</div></div>
<div style="position:absolute;left:19.3px;top:327.1px;width:1572.6px;height:1.2px;background:#cfcfcf"></div>
<div style="position:absolute;left:1591.6px;top:327.1px;width:1.2px;height:645px;background:#d4d4d4"></div>
<div style="position:absolute;left:19.2px;top:327.1px;width:1.2px;height:645px;background:#d2d2d2"></div>
<div style="position:absolute;left:20.2px;top:957.2px;width:1571.2px;height:14.4px;background:#f1f1f1"></div>
<div style="position:absolute;left:35px;top:959px;width:1184px;height:10.6px;background:#c1c1c1"></div>
<svg style="position:absolute;left:24px;top:959px" width="8" height="11" viewBox="0 0 8 11"><path d="M5.6 1.6 V9.2 L1.2 5.4 Z" fill="#a3a3a3"></path></svg>
<svg style="position:absolute;left:1580px;top:959px" width="8" height="11" viewBox="0 0 8 11"><path d="M2 1.6 V9.2 L6.4 5.4 Z" fill="#505050"></path></svg>
<div id="vscroll"></div><div id="vthumb"></div>
<svg style="position:absolute;left:1641px;top:116px" width="10" height="8" viewBox="0 0 10 8"><path d="M1 6.4 H9 L5 1.6 Z" fill="#a3a3a3"></path></svg>
<svg style="position:absolute;left:1641px;top:960px" width="10" height="8" viewBox="0 0 10 8"><path d="M1 1.6 H9 L5 6.4 Z" fill="#505050"></path></svg>
<div id="lborder"></div><div id="bborder"></div><div id="rborder"></div>
<div style="position:absolute;left:0;top:3px;width:1px;height:973px;background:#65645d"></div><div style="position:absolute;left:3px;top:0;width:1649px;height:1px;background:#6a6962"></div><svg style="position:absolute;left:0;top:0" width="5" height="5"><path d="M0 0 H4 C1.6 0 0 1.6 0 4 Z" fill="#0e0e0d"></path></svg>
<svg style="position:absolute;left:1647px;top:0" width="10" height="10"><path d="M10 0 H0 C4.4 0 6.6 2.4 6.6 7 V10 H10 Z" fill="#1f1e1c"></path></svg>

</body></html>
